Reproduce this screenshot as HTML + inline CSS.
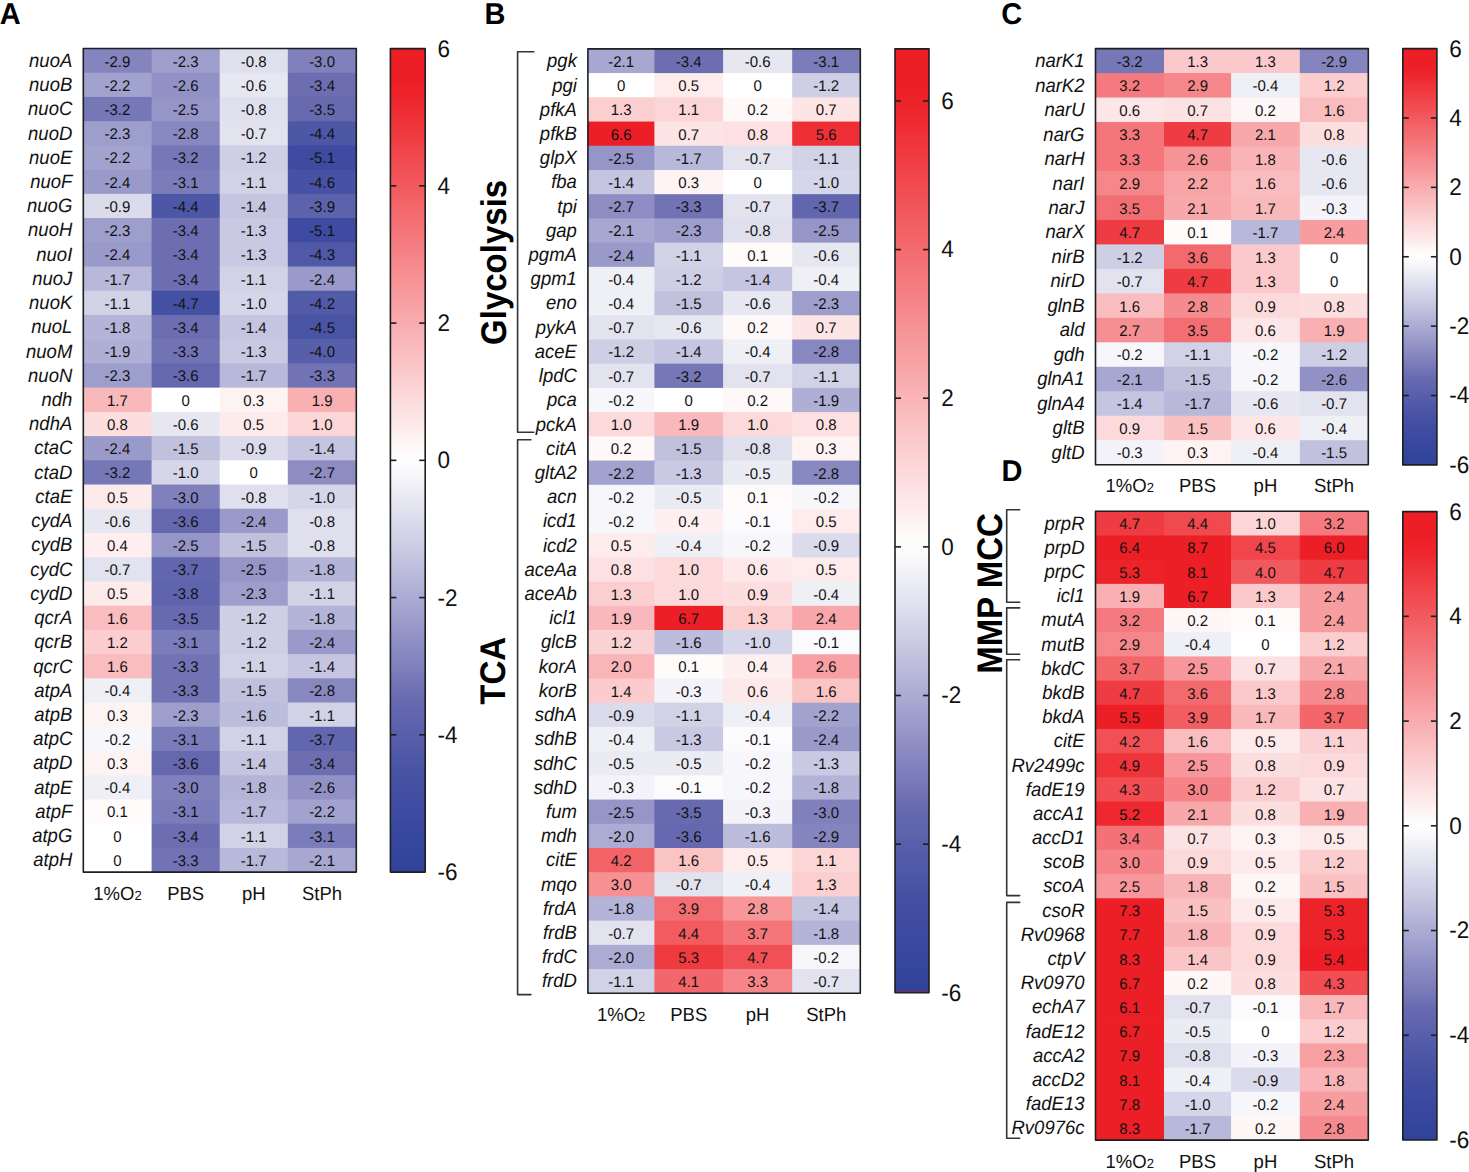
<!DOCTYPE html>
<html><head><meta charset="utf-8"><title>Heatmap</title>
<style>html,body{margin:0;padding:0;background:#fff;} body{width:1469px;height:1172px;overflow:hidden;} svg text{font-family:"Liberation Sans", sans-serif; text-rendering:geometricPrecision;}</style>
</head><body>
<svg width="1469" height="1172" viewBox="0 0 1469 1172" style="display:block">
<rect x="0" y="0" width="1469" height="1172" fill="#ffffff"/>
<defs><linearGradient id="gradA" x1="0" y1="0" x2="0" y2="1"><stop offset="0.0000" stop-color="#ed1f26"/><stop offset="0.0208" stop-color="#ed1f26"/><stop offset="0.0417" stop-color="#ed1f26"/><stop offset="0.0625" stop-color="#ee252c"/><stop offset="0.0833" stop-color="#ee3036"/><stop offset="0.1042" stop-color="#ef3a40"/><stop offset="0.1250" stop-color="#f0454a"/><stop offset="0.1458" stop-color="#f14f54"/><stop offset="0.1667" stop-color="#f2595e"/><stop offset="0.1875" stop-color="#f36468"/><stop offset="0.2083" stop-color="#f36e72"/><stop offset="0.2292" stop-color="#f4787d"/><stop offset="0.2500" stop-color="#f58387"/><stop offset="0.2708" stop-color="#f68d91"/><stop offset="0.2917" stop-color="#f7979b"/><stop offset="0.3125" stop-color="#f8a2a5"/><stop offset="0.3333" stop-color="#f8acaf"/><stop offset="0.3542" stop-color="#f9b6b9"/><stop offset="0.3750" stop-color="#fac1c3"/><stop offset="0.3958" stop-color="#fbcbcd"/><stop offset="0.4167" stop-color="#fcd6d7"/><stop offset="0.4375" stop-color="#fde0e1"/><stop offset="0.4583" stop-color="#fdeaeb"/><stop offset="0.4792" stop-color="#fef5f5"/><stop offset="0.5000" stop-color="#ffffff"/><stop offset="0.5208" stop-color="#f5f5fa"/><stop offset="0.5417" stop-color="#ebebf4"/><stop offset="0.5625" stop-color="#e1e1ef"/><stop offset="0.5833" stop-color="#d6d6ea"/><stop offset="0.6042" stop-color="#cccce4"/><stop offset="0.6250" stop-color="#c1c1de"/><stop offset="0.6458" stop-color="#b6b6d9"/><stop offset="0.6667" stop-color="#ababd3"/><stop offset="0.6875" stop-color="#a0a0ce"/><stop offset="0.7083" stop-color="#9595c8"/><stop offset="0.7292" stop-color="#8a8ac2"/><stop offset="0.7500" stop-color="#8080bc"/><stop offset="0.7708" stop-color="#7475b6"/><stop offset="0.7917" stop-color="#686ab0"/><stop offset="0.8125" stop-color="#6065ad"/><stop offset="0.8333" stop-color="#585faa"/><stop offset="0.8542" stop-color="#515aa8"/><stop offset="0.8750" stop-color="#4954a4"/><stop offset="0.8958" stop-color="#4450a2"/><stop offset="0.9167" stop-color="#404ca1"/><stop offset="0.9375" stop-color="#3b4a9f"/><stop offset="0.9583" stop-color="#37479d"/><stop offset="0.9792" stop-color="#33459b"/><stop offset="1.0000" stop-color="#2f4399"/></linearGradient><linearGradient id="gradB" x1="0" y1="0" x2="0" y2="1"><stop offset="0.0000" stop-color="#ed1f26"/><stop offset="0.0208" stop-color="#ed1f26"/><stop offset="0.0417" stop-color="#ed1f26"/><stop offset="0.0625" stop-color="#ed242b"/><stop offset="0.0833" stop-color="#ee2e34"/><stop offset="0.1042" stop-color="#ef373e"/><stop offset="0.1250" stop-color="#f04147"/><stop offset="0.1458" stop-color="#f14b51"/><stop offset="0.1667" stop-color="#f1555a"/><stop offset="0.1875" stop-color="#f25f64"/><stop offset="0.2083" stop-color="#f3696d"/><stop offset="0.2292" stop-color="#f47277"/><stop offset="0.2500" stop-color="#f47c80"/><stop offset="0.2708" stop-color="#f5868a"/><stop offset="0.2917" stop-color="#f69093"/><stop offset="0.3125" stop-color="#f79a9d"/><stop offset="0.3333" stop-color="#f8a3a6"/><stop offset="0.3542" stop-color="#f8adb0"/><stop offset="0.3750" stop-color="#f9b7b9"/><stop offset="0.3958" stop-color="#fac1c3"/><stop offset="0.4167" stop-color="#fbcbcc"/><stop offset="0.4375" stop-color="#fcd5d6"/><stop offset="0.4583" stop-color="#fcdedf"/><stop offset="0.4792" stop-color="#fde8e9"/><stop offset="0.5000" stop-color="#fef2f2"/><stop offset="0.5208" stop-color="#fffcfc"/><stop offset="0.5417" stop-color="#f8f8fb"/><stop offset="0.5625" stop-color="#ededf6"/><stop offset="0.5833" stop-color="#e3e3f0"/><stop offset="0.6042" stop-color="#d8d8ea"/><stop offset="0.6250" stop-color="#cccce4"/><stop offset="0.6458" stop-color="#c1c1de"/><stop offset="0.6667" stop-color="#b5b5d8"/><stop offset="0.6875" stop-color="#aaaad2"/><stop offset="0.7083" stop-color="#9e9ecd"/><stop offset="0.7292" stop-color="#9393c7"/><stop offset="0.7500" stop-color="#8787c1"/><stop offset="0.7708" stop-color="#7c7cba"/><stop offset="0.7917" stop-color="#6f70b4"/><stop offset="0.8125" stop-color="#6467af"/><stop offset="0.8333" stop-color="#5c62ac"/><stop offset="0.8542" stop-color="#545ca9"/><stop offset="0.8750" stop-color="#4c57a6"/><stop offset="0.8958" stop-color="#4551a3"/><stop offset="0.9167" stop-color="#414da1"/><stop offset="0.9375" stop-color="#3c4a9f"/><stop offset="0.9583" stop-color="#38489d"/><stop offset="0.9792" stop-color="#33459b"/><stop offset="1.0000" stop-color="#2f4399"/></linearGradient><linearGradient id="gradC" x1="0" y1="0" x2="0" y2="1"><stop offset="0.0000" stop-color="#ed1f26"/><stop offset="0.0208" stop-color="#ed1f26"/><stop offset="0.0417" stop-color="#ed1f26"/><stop offset="0.0625" stop-color="#ee252c"/><stop offset="0.0833" stop-color="#ee3036"/><stop offset="0.1042" stop-color="#ef3a40"/><stop offset="0.1250" stop-color="#f0454a"/><stop offset="0.1458" stop-color="#f14f54"/><stop offset="0.1667" stop-color="#f2595e"/><stop offset="0.1875" stop-color="#f36468"/><stop offset="0.2083" stop-color="#f36e72"/><stop offset="0.2292" stop-color="#f4787d"/><stop offset="0.2500" stop-color="#f58387"/><stop offset="0.2708" stop-color="#f68d91"/><stop offset="0.2917" stop-color="#f7979b"/><stop offset="0.3125" stop-color="#f8a2a5"/><stop offset="0.3333" stop-color="#f8acaf"/><stop offset="0.3542" stop-color="#f9b6b9"/><stop offset="0.3750" stop-color="#fac1c3"/><stop offset="0.3958" stop-color="#fbcbcd"/><stop offset="0.4167" stop-color="#fcd6d7"/><stop offset="0.4375" stop-color="#fde0e1"/><stop offset="0.4583" stop-color="#fdeaeb"/><stop offset="0.4792" stop-color="#fef5f5"/><stop offset="0.5000" stop-color="#ffffff"/><stop offset="0.5208" stop-color="#f5f5fa"/><stop offset="0.5417" stop-color="#ebebf4"/><stop offset="0.5625" stop-color="#e1e1ef"/><stop offset="0.5833" stop-color="#d6d6ea"/><stop offset="0.6042" stop-color="#cccce4"/><stop offset="0.6250" stop-color="#c1c1de"/><stop offset="0.6458" stop-color="#b6b6d9"/><stop offset="0.6667" stop-color="#ababd3"/><stop offset="0.6875" stop-color="#a0a0ce"/><stop offset="0.7083" stop-color="#9595c8"/><stop offset="0.7292" stop-color="#8a8ac2"/><stop offset="0.7500" stop-color="#8080bc"/><stop offset="0.7708" stop-color="#7475b6"/><stop offset="0.7917" stop-color="#686ab0"/><stop offset="0.8125" stop-color="#6065ad"/><stop offset="0.8333" stop-color="#585faa"/><stop offset="0.8542" stop-color="#515aa8"/><stop offset="0.8750" stop-color="#4954a4"/><stop offset="0.8958" stop-color="#4450a2"/><stop offset="0.9167" stop-color="#404ca1"/><stop offset="0.9375" stop-color="#3b4a9f"/><stop offset="0.9583" stop-color="#37479d"/><stop offset="0.9792" stop-color="#33459b"/><stop offset="1.0000" stop-color="#2f4399"/></linearGradient><linearGradient id="gradD" x1="0" y1="0" x2="0" y2="1"><stop offset="0.0000" stop-color="#ed1f26"/><stop offset="0.0208" stop-color="#ed1f26"/><stop offset="0.0417" stop-color="#ed1f26"/><stop offset="0.0625" stop-color="#ee252c"/><stop offset="0.0833" stop-color="#ee3036"/><stop offset="0.1042" stop-color="#ef3a40"/><stop offset="0.1250" stop-color="#f0454a"/><stop offset="0.1458" stop-color="#f14f54"/><stop offset="0.1667" stop-color="#f2595e"/><stop offset="0.1875" stop-color="#f36468"/><stop offset="0.2083" stop-color="#f36e72"/><stop offset="0.2292" stop-color="#f4787d"/><stop offset="0.2500" stop-color="#f58387"/><stop offset="0.2708" stop-color="#f68d91"/><stop offset="0.2917" stop-color="#f7979b"/><stop offset="0.3125" stop-color="#f8a2a5"/><stop offset="0.3333" stop-color="#f8acaf"/><stop offset="0.3542" stop-color="#f9b6b9"/><stop offset="0.3750" stop-color="#fac1c3"/><stop offset="0.3958" stop-color="#fbcbcd"/><stop offset="0.4167" stop-color="#fcd6d7"/><stop offset="0.4375" stop-color="#fde0e1"/><stop offset="0.4583" stop-color="#fdeaeb"/><stop offset="0.4792" stop-color="#fef5f5"/><stop offset="0.5000" stop-color="#ffffff"/><stop offset="0.5208" stop-color="#f5f5fa"/><stop offset="0.5417" stop-color="#ebebf4"/><stop offset="0.5625" stop-color="#e1e1ef"/><stop offset="0.5833" stop-color="#d6d6ea"/><stop offset="0.6042" stop-color="#cccce4"/><stop offset="0.6250" stop-color="#c1c1de"/><stop offset="0.6458" stop-color="#b6b6d9"/><stop offset="0.6667" stop-color="#ababd3"/><stop offset="0.6875" stop-color="#a0a0ce"/><stop offset="0.7083" stop-color="#9595c8"/><stop offset="0.7292" stop-color="#8a8ac2"/><stop offset="0.7500" stop-color="#8080bc"/><stop offset="0.7708" stop-color="#7475b6"/><stop offset="0.7917" stop-color="#686ab0"/><stop offset="0.8125" stop-color="#6065ad"/><stop offset="0.8333" stop-color="#585faa"/><stop offset="0.8542" stop-color="#515aa8"/><stop offset="0.8750" stop-color="#4954a4"/><stop offset="0.8958" stop-color="#4450a2"/><stop offset="0.9167" stop-color="#404ca1"/><stop offset="0.9375" stop-color="#3b4a9f"/><stop offset="0.9583" stop-color="#37479d"/><stop offset="0.9792" stop-color="#33459b"/><stop offset="1.0000" stop-color="#2f4399"/></linearGradient></defs>
<rect x="83.30" y="48.50" width="69.00" height="24.92" fill="#8484bf"/>
<rect x="151.60" y="48.50" width="68.80" height="24.92" fill="#9e9ecc"/>
<rect x="219.70" y="48.50" width="68.80" height="24.92" fill="#dfdfee"/>
<rect x="287.80" y="48.50" width="68.50" height="24.92" fill="#8080bc"/>
<rect x="83.30" y="72.72" width="69.00" height="24.92" fill="#a2a2cf"/>
<rect x="151.60" y="72.72" width="68.80" height="24.92" fill="#9191c6"/>
<rect x="219.70" y="72.72" width="68.80" height="24.92" fill="#e7e7f2"/>
<rect x="287.80" y="72.72" width="68.50" height="24.92" fill="#6d6eb2"/>
<rect x="83.30" y="96.95" width="69.00" height="24.92" fill="#7677b7"/>
<rect x="151.60" y="96.95" width="68.80" height="24.92" fill="#9595c8"/>
<rect x="219.70" y="96.95" width="68.80" height="24.92" fill="#dfdfee"/>
<rect x="287.80" y="96.95" width="68.50" height="24.92" fill="#686ab0"/>
<rect x="83.30" y="121.17" width="69.00" height="24.92" fill="#9e9ecc"/>
<rect x="151.60" y="121.17" width="68.80" height="24.92" fill="#8888c1"/>
<rect x="219.70" y="121.17" width="68.80" height="24.92" fill="#e3e3f0"/>
<rect x="287.80" y="121.17" width="68.50" height="24.92" fill="#4c57a6"/>
<rect x="83.30" y="145.39" width="69.00" height="24.92" fill="#a2a2cf"/>
<rect x="151.60" y="145.39" width="68.80" height="24.92" fill="#7677b7"/>
<rect x="219.70" y="145.39" width="68.80" height="24.92" fill="#cecee5"/>
<rect x="287.80" y="145.39" width="68.50" height="24.92" fill="#3e4ba0"/>
<rect x="83.30" y="169.62" width="69.00" height="24.92" fill="#9a9aca"/>
<rect x="151.60" y="169.62" width="68.80" height="24.92" fill="#7b7cba"/>
<rect x="219.70" y="169.62" width="68.80" height="24.92" fill="#d2d2e7"/>
<rect x="287.80" y="169.62" width="68.50" height="24.92" fill="#4652a3"/>
<rect x="83.30" y="193.84" width="69.00" height="24.92" fill="#dbdbec"/>
<rect x="151.60" y="193.84" width="68.80" height="24.92" fill="#4c57a6"/>
<rect x="219.70" y="193.84" width="68.80" height="24.92" fill="#c5c5e1"/>
<rect x="287.80" y="193.84" width="68.50" height="24.92" fill="#5c62ac"/>
<rect x="83.30" y="218.06" width="69.00" height="24.92" fill="#9e9ecc"/>
<rect x="151.60" y="218.06" width="68.80" height="24.92" fill="#6d6eb2"/>
<rect x="219.70" y="218.06" width="68.80" height="24.92" fill="#c9c9e3"/>
<rect x="287.80" y="218.06" width="68.50" height="24.92" fill="#3e4ba0"/>
<rect x="83.30" y="242.29" width="69.00" height="24.92" fill="#9a9aca"/>
<rect x="151.60" y="242.29" width="68.80" height="24.92" fill="#6d6eb2"/>
<rect x="219.70" y="242.29" width="68.80" height="24.92" fill="#c9c9e3"/>
<rect x="287.80" y="242.29" width="68.50" height="24.92" fill="#4f59a7"/>
<rect x="83.30" y="266.51" width="69.00" height="24.92" fill="#b8b8da"/>
<rect x="151.60" y="266.51" width="68.80" height="24.92" fill="#6d6eb2"/>
<rect x="219.70" y="266.51" width="68.80" height="24.92" fill="#d2d2e7"/>
<rect x="287.80" y="266.51" width="68.50" height="24.92" fill="#9a9aca"/>
<rect x="83.30" y="290.74" width="69.00" height="24.92" fill="#d2d2e7"/>
<rect x="151.60" y="290.74" width="68.80" height="24.92" fill="#4451a2"/>
<rect x="219.70" y="290.74" width="68.80" height="24.92" fill="#d6d6ea"/>
<rect x="287.80" y="290.74" width="68.50" height="24.92" fill="#525ba8"/>
<rect x="83.30" y="314.96" width="69.00" height="24.92" fill="#b4b4d8"/>
<rect x="151.60" y="314.96" width="68.80" height="24.92" fill="#6d6eb2"/>
<rect x="219.70" y="314.96" width="68.80" height="24.92" fill="#c5c5e1"/>
<rect x="287.80" y="314.96" width="68.50" height="24.92" fill="#4954a4"/>
<rect x="83.30" y="339.18" width="69.00" height="24.92" fill="#afafd5"/>
<rect x="151.60" y="339.18" width="68.80" height="24.92" fill="#7273b5"/>
<rect x="219.70" y="339.18" width="68.80" height="24.92" fill="#c9c9e3"/>
<rect x="287.80" y="339.18" width="68.50" height="24.92" fill="#585faa"/>
<rect x="83.30" y="363.41" width="69.00" height="24.92" fill="#9e9ecc"/>
<rect x="151.60" y="363.41" width="68.80" height="24.92" fill="#6568af"/>
<rect x="219.70" y="363.41" width="68.80" height="24.92" fill="#b8b8da"/>
<rect x="287.80" y="363.41" width="68.50" height="24.92" fill="#7273b5"/>
<rect x="83.30" y="387.63" width="69.00" height="24.92" fill="#f9b9bb"/>
<rect x="151.60" y="387.63" width="68.80" height="24.92" fill="#ffffff"/>
<rect x="219.70" y="387.63" width="68.80" height="24.92" fill="#fef3f3"/>
<rect x="287.80" y="387.63" width="68.50" height="24.92" fill="#f9b0b3"/>
<rect x="83.30" y="411.85" width="69.00" height="24.92" fill="#fcdedf"/>
<rect x="151.60" y="411.85" width="68.80" height="24.92" fill="#e7e7f2"/>
<rect x="219.70" y="411.85" width="68.80" height="24.92" fill="#fdeaeb"/>
<rect x="287.80" y="411.85" width="68.50" height="24.92" fill="#fcd6d7"/>
<rect x="83.30" y="436.08" width="69.00" height="24.92" fill="#9a9aca"/>
<rect x="151.60" y="436.08" width="68.80" height="24.92" fill="#c1c1de"/>
<rect x="219.70" y="436.08" width="68.80" height="24.92" fill="#dbdbec"/>
<rect x="287.80" y="436.08" width="68.50" height="24.92" fill="#c5c5e1"/>
<rect x="83.30" y="460.30" width="69.00" height="24.92" fill="#7677b7"/>
<rect x="151.60" y="460.30" width="68.80" height="24.92" fill="#d6d6ea"/>
<rect x="219.70" y="460.30" width="68.80" height="24.92" fill="#ffffff"/>
<rect x="287.80" y="460.30" width="68.50" height="24.92" fill="#8d8dc3"/>
<rect x="83.30" y="484.52" width="69.00" height="24.92" fill="#fdeaeb"/>
<rect x="151.60" y="484.52" width="68.80" height="24.92" fill="#8080bc"/>
<rect x="219.70" y="484.52" width="68.80" height="24.92" fill="#dfdfee"/>
<rect x="287.80" y="484.52" width="68.50" height="24.92" fill="#d6d6ea"/>
<rect x="83.30" y="508.75" width="69.00" height="24.92" fill="#e7e7f2"/>
<rect x="151.60" y="508.75" width="68.80" height="24.92" fill="#6568af"/>
<rect x="219.70" y="508.75" width="68.80" height="24.92" fill="#9a9aca"/>
<rect x="287.80" y="508.75" width="68.50" height="24.92" fill="#dfdfee"/>
<rect x="83.30" y="532.97" width="69.00" height="24.92" fill="#feeeef"/>
<rect x="151.60" y="532.97" width="68.80" height="24.92" fill="#9595c8"/>
<rect x="219.70" y="532.97" width="68.80" height="24.92" fill="#c1c1de"/>
<rect x="287.80" y="532.97" width="68.50" height="24.92" fill="#dfdfee"/>
<rect x="83.30" y="557.19" width="69.00" height="24.92" fill="#e3e3f0"/>
<rect x="151.60" y="557.19" width="68.80" height="24.92" fill="#6266ae"/>
<rect x="219.70" y="557.19" width="68.80" height="24.92" fill="#9595c8"/>
<rect x="287.80" y="557.19" width="68.50" height="24.92" fill="#b4b4d8"/>
<rect x="83.30" y="581.42" width="69.00" height="24.92" fill="#fdeaeb"/>
<rect x="151.60" y="581.42" width="68.80" height="24.92" fill="#5f64ad"/>
<rect x="219.70" y="581.42" width="68.80" height="24.92" fill="#9e9ecc"/>
<rect x="287.80" y="581.42" width="68.50" height="24.92" fill="#d2d2e7"/>
<rect x="83.30" y="605.64" width="69.00" height="24.92" fill="#fabdbf"/>
<rect x="151.60" y="605.64" width="68.80" height="24.92" fill="#686ab0"/>
<rect x="219.70" y="605.64" width="68.80" height="24.92" fill="#cecee5"/>
<rect x="287.80" y="605.64" width="68.50" height="24.92" fill="#b4b4d8"/>
<rect x="83.30" y="629.86" width="69.00" height="24.92" fill="#fbcdcf"/>
<rect x="151.60" y="629.86" width="68.80" height="24.92" fill="#7b7cba"/>
<rect x="219.70" y="629.86" width="68.80" height="24.92" fill="#cecee5"/>
<rect x="287.80" y="629.86" width="68.50" height="24.92" fill="#9a9aca"/>
<rect x="83.30" y="654.09" width="69.00" height="24.92" fill="#fabdbf"/>
<rect x="151.60" y="654.09" width="68.80" height="24.92" fill="#7273b5"/>
<rect x="219.70" y="654.09" width="68.80" height="24.92" fill="#d2d2e7"/>
<rect x="287.80" y="654.09" width="68.50" height="24.92" fill="#c5c5e1"/>
<rect x="83.30" y="678.31" width="69.00" height="24.92" fill="#efeff6"/>
<rect x="151.60" y="678.31" width="68.80" height="24.92" fill="#7273b5"/>
<rect x="219.70" y="678.31" width="68.80" height="24.92" fill="#c1c1de"/>
<rect x="287.80" y="678.31" width="68.50" height="24.92" fill="#8888c1"/>
<rect x="83.30" y="702.54" width="69.00" height="24.92" fill="#fef3f3"/>
<rect x="151.60" y="702.54" width="68.80" height="24.92" fill="#9e9ecc"/>
<rect x="219.70" y="702.54" width="68.80" height="24.92" fill="#bcbcdc"/>
<rect x="287.80" y="702.54" width="68.50" height="24.92" fill="#d2d2e7"/>
<rect x="83.30" y="726.76" width="69.00" height="24.92" fill="#f7f7fb"/>
<rect x="151.60" y="726.76" width="68.80" height="24.92" fill="#7b7cba"/>
<rect x="219.70" y="726.76" width="68.80" height="24.92" fill="#d2d2e7"/>
<rect x="287.80" y="726.76" width="68.50" height="24.92" fill="#6266ae"/>
<rect x="83.30" y="750.98" width="69.00" height="24.92" fill="#fef3f3"/>
<rect x="151.60" y="750.98" width="68.80" height="24.92" fill="#6568af"/>
<rect x="219.70" y="750.98" width="68.80" height="24.92" fill="#c5c5e1"/>
<rect x="287.80" y="750.98" width="68.50" height="24.92" fill="#6d6eb2"/>
<rect x="83.30" y="775.21" width="69.00" height="24.92" fill="#efeff6"/>
<rect x="151.60" y="775.21" width="68.80" height="24.92" fill="#8080bc"/>
<rect x="219.70" y="775.21" width="68.80" height="24.92" fill="#b4b4d8"/>
<rect x="287.80" y="775.21" width="68.50" height="24.92" fill="#9191c6"/>
<rect x="83.30" y="799.43" width="69.00" height="24.92" fill="#fffbfb"/>
<rect x="151.60" y="799.43" width="68.80" height="24.92" fill="#7b7cba"/>
<rect x="219.70" y="799.43" width="68.80" height="24.92" fill="#b8b8da"/>
<rect x="287.80" y="799.43" width="68.50" height="24.92" fill="#a2a2cf"/>
<rect x="83.30" y="823.65" width="69.00" height="24.92" fill="#ffffff"/>
<rect x="151.60" y="823.65" width="68.80" height="24.92" fill="#6d6eb2"/>
<rect x="219.70" y="823.65" width="68.80" height="24.92" fill="#d2d2e7"/>
<rect x="287.80" y="823.65" width="68.50" height="24.92" fill="#7b7cba"/>
<rect x="83.30" y="847.88" width="69.00" height="24.22" fill="#ffffff"/>
<rect x="151.60" y="847.88" width="68.80" height="24.22" fill="#7273b5"/>
<rect x="219.70" y="847.88" width="68.80" height="24.22" fill="#b8b8da"/>
<rect x="287.80" y="847.88" width="68.50" height="24.22" fill="#a7a7d1"/>
<rect x="83.30" y="48.50" width="273.00" height="823.60" fill="none" stroke="#1c1f20" stroke-width="1.6" stroke-linejoin="round"/>
<text transform="translate(117.45,66.51) scale(1,1.03)" font-size="15" text-anchor="middle" fill="#111111">-2.9</text>
<text transform="translate(185.65,66.51) scale(1,1.03)" font-size="15" text-anchor="middle" fill="#111111">-2.3</text>
<text transform="translate(253.75,66.51) scale(1,1.03)" font-size="15" text-anchor="middle" fill="#111111">-0.8</text>
<text transform="translate(322.05,66.51) scale(1,1.03)" font-size="15" text-anchor="middle" fill="#111111">-3.0</text>
<text transform="translate(117.45,90.74) scale(1,1.03)" font-size="15" text-anchor="middle" fill="#111111">-2.2</text>
<text transform="translate(185.65,90.74) scale(1,1.03)" font-size="15" text-anchor="middle" fill="#111111">-2.6</text>
<text transform="translate(253.75,90.74) scale(1,1.03)" font-size="15" text-anchor="middle" fill="#111111">-0.6</text>
<text transform="translate(322.05,90.74) scale(1,1.03)" font-size="15" text-anchor="middle" fill="#111111">-3.4</text>
<text transform="translate(117.45,114.96) scale(1,1.03)" font-size="15" text-anchor="middle" fill="#111111">-3.2</text>
<text transform="translate(185.65,114.96) scale(1,1.03)" font-size="15" text-anchor="middle" fill="#111111">-2.5</text>
<text transform="translate(253.75,114.96) scale(1,1.03)" font-size="15" text-anchor="middle" fill="#111111">-0.8</text>
<text transform="translate(322.05,114.96) scale(1,1.03)" font-size="15" text-anchor="middle" fill="#111111">-3.5</text>
<text transform="translate(117.45,139.18) scale(1,1.03)" font-size="15" text-anchor="middle" fill="#111111">-2.3</text>
<text transform="translate(185.65,139.18) scale(1,1.03)" font-size="15" text-anchor="middle" fill="#111111">-2.8</text>
<text transform="translate(253.75,139.18) scale(1,1.03)" font-size="15" text-anchor="middle" fill="#111111">-0.7</text>
<text transform="translate(322.05,139.18) scale(1,1.03)" font-size="15" text-anchor="middle" fill="#111111">-4.4</text>
<text transform="translate(117.45,163.41) scale(1,1.03)" font-size="15" text-anchor="middle" fill="#111111">-2.2</text>
<text transform="translate(185.65,163.41) scale(1,1.03)" font-size="15" text-anchor="middle" fill="#111111">-3.2</text>
<text transform="translate(253.75,163.41) scale(1,1.03)" font-size="15" text-anchor="middle" fill="#111111">-1.2</text>
<text transform="translate(322.05,163.41) scale(1,1.03)" font-size="15" text-anchor="middle" fill="#111111">-5.1</text>
<text transform="translate(117.45,187.63) scale(1,1.03)" font-size="15" text-anchor="middle" fill="#111111">-2.4</text>
<text transform="translate(185.65,187.63) scale(1,1.03)" font-size="15" text-anchor="middle" fill="#111111">-3.1</text>
<text transform="translate(253.75,187.63) scale(1,1.03)" font-size="15" text-anchor="middle" fill="#111111">-1.1</text>
<text transform="translate(322.05,187.63) scale(1,1.03)" font-size="15" text-anchor="middle" fill="#111111">-4.6</text>
<text transform="translate(117.45,211.85) scale(1,1.03)" font-size="15" text-anchor="middle" fill="#111111">-0.9</text>
<text transform="translate(185.65,211.85) scale(1,1.03)" font-size="15" text-anchor="middle" fill="#111111">-4.4</text>
<text transform="translate(253.75,211.85) scale(1,1.03)" font-size="15" text-anchor="middle" fill="#111111">-1.4</text>
<text transform="translate(322.05,211.85) scale(1,1.03)" font-size="15" text-anchor="middle" fill="#111111">-3.9</text>
<text transform="translate(117.45,236.08) scale(1,1.03)" font-size="15" text-anchor="middle" fill="#111111">-2.3</text>
<text transform="translate(185.65,236.08) scale(1,1.03)" font-size="15" text-anchor="middle" fill="#111111">-3.4</text>
<text transform="translate(253.75,236.08) scale(1,1.03)" font-size="15" text-anchor="middle" fill="#111111">-1.3</text>
<text transform="translate(322.05,236.08) scale(1,1.03)" font-size="15" text-anchor="middle" fill="#111111">-5.1</text>
<text transform="translate(117.45,260.30) scale(1,1.03)" font-size="15" text-anchor="middle" fill="#111111">-2.4</text>
<text transform="translate(185.65,260.30) scale(1,1.03)" font-size="15" text-anchor="middle" fill="#111111">-3.4</text>
<text transform="translate(253.75,260.30) scale(1,1.03)" font-size="15" text-anchor="middle" fill="#111111">-1.3</text>
<text transform="translate(322.05,260.30) scale(1,1.03)" font-size="15" text-anchor="middle" fill="#111111">-4.3</text>
<text transform="translate(117.45,284.52) scale(1,1.03)" font-size="15" text-anchor="middle" fill="#111111">-1.7</text>
<text transform="translate(185.65,284.52) scale(1,1.03)" font-size="15" text-anchor="middle" fill="#111111">-3.4</text>
<text transform="translate(253.75,284.52) scale(1,1.03)" font-size="15" text-anchor="middle" fill="#111111">-1.1</text>
<text transform="translate(322.05,284.52) scale(1,1.03)" font-size="15" text-anchor="middle" fill="#111111">-2.4</text>
<text transform="translate(117.45,308.75) scale(1,1.03)" font-size="15" text-anchor="middle" fill="#111111">-1.1</text>
<text transform="translate(185.65,308.75) scale(1,1.03)" font-size="15" text-anchor="middle" fill="#111111">-4.7</text>
<text transform="translate(253.75,308.75) scale(1,1.03)" font-size="15" text-anchor="middle" fill="#111111">-1.0</text>
<text transform="translate(322.05,308.75) scale(1,1.03)" font-size="15" text-anchor="middle" fill="#111111">-4.2</text>
<text transform="translate(117.45,332.97) scale(1,1.03)" font-size="15" text-anchor="middle" fill="#111111">-1.8</text>
<text transform="translate(185.65,332.97) scale(1,1.03)" font-size="15" text-anchor="middle" fill="#111111">-3.4</text>
<text transform="translate(253.75,332.97) scale(1,1.03)" font-size="15" text-anchor="middle" fill="#111111">-1.4</text>
<text transform="translate(322.05,332.97) scale(1,1.03)" font-size="15" text-anchor="middle" fill="#111111">-4.5</text>
<text transform="translate(117.45,357.19) scale(1,1.03)" font-size="15" text-anchor="middle" fill="#111111">-1.9</text>
<text transform="translate(185.65,357.19) scale(1,1.03)" font-size="15" text-anchor="middle" fill="#111111">-3.3</text>
<text transform="translate(253.75,357.19) scale(1,1.03)" font-size="15" text-anchor="middle" fill="#111111">-1.3</text>
<text transform="translate(322.05,357.19) scale(1,1.03)" font-size="15" text-anchor="middle" fill="#111111">-4.0</text>
<text transform="translate(117.45,381.42) scale(1,1.03)" font-size="15" text-anchor="middle" fill="#111111">-2.3</text>
<text transform="translate(185.65,381.42) scale(1,1.03)" font-size="15" text-anchor="middle" fill="#111111">-3.6</text>
<text transform="translate(253.75,381.42) scale(1,1.03)" font-size="15" text-anchor="middle" fill="#111111">-1.7</text>
<text transform="translate(322.05,381.42) scale(1,1.03)" font-size="15" text-anchor="middle" fill="#111111">-3.3</text>
<text transform="translate(117.45,405.64) scale(1,1.03)" font-size="15" text-anchor="middle" fill="#111111">1.7</text>
<text transform="translate(185.65,405.64) scale(1,1.03)" font-size="15" text-anchor="middle" fill="#111111">0</text>
<text transform="translate(253.75,405.64) scale(1,1.03)" font-size="15" text-anchor="middle" fill="#111111">0.3</text>
<text transform="translate(322.05,405.64) scale(1,1.03)" font-size="15" text-anchor="middle" fill="#111111">1.9</text>
<text transform="translate(117.45,429.86) scale(1,1.03)" font-size="15" text-anchor="middle" fill="#111111">0.8</text>
<text transform="translate(185.65,429.86) scale(1,1.03)" font-size="15" text-anchor="middle" fill="#111111">-0.6</text>
<text transform="translate(253.75,429.86) scale(1,1.03)" font-size="15" text-anchor="middle" fill="#111111">0.5</text>
<text transform="translate(322.05,429.86) scale(1,1.03)" font-size="15" text-anchor="middle" fill="#111111">1.0</text>
<text transform="translate(117.45,454.09) scale(1,1.03)" font-size="15" text-anchor="middle" fill="#111111">-2.4</text>
<text transform="translate(185.65,454.09) scale(1,1.03)" font-size="15" text-anchor="middle" fill="#111111">-1.5</text>
<text transform="translate(253.75,454.09) scale(1,1.03)" font-size="15" text-anchor="middle" fill="#111111">-0.9</text>
<text transform="translate(322.05,454.09) scale(1,1.03)" font-size="15" text-anchor="middle" fill="#111111">-1.4</text>
<text transform="translate(117.45,478.31) scale(1,1.03)" font-size="15" text-anchor="middle" fill="#111111">-3.2</text>
<text transform="translate(185.65,478.31) scale(1,1.03)" font-size="15" text-anchor="middle" fill="#111111">-1.0</text>
<text transform="translate(253.75,478.31) scale(1,1.03)" font-size="15" text-anchor="middle" fill="#111111">0</text>
<text transform="translate(322.05,478.31) scale(1,1.03)" font-size="15" text-anchor="middle" fill="#111111">-2.7</text>
<text transform="translate(117.45,502.54) scale(1,1.03)" font-size="15" text-anchor="middle" fill="#111111">0.5</text>
<text transform="translate(185.65,502.54) scale(1,1.03)" font-size="15" text-anchor="middle" fill="#111111">-3.0</text>
<text transform="translate(253.75,502.54) scale(1,1.03)" font-size="15" text-anchor="middle" fill="#111111">-0.8</text>
<text transform="translate(322.05,502.54) scale(1,1.03)" font-size="15" text-anchor="middle" fill="#111111">-1.0</text>
<text transform="translate(117.45,526.76) scale(1,1.03)" font-size="15" text-anchor="middle" fill="#111111">-0.6</text>
<text transform="translate(185.65,526.76) scale(1,1.03)" font-size="15" text-anchor="middle" fill="#111111">-3.6</text>
<text transform="translate(253.75,526.76) scale(1,1.03)" font-size="15" text-anchor="middle" fill="#111111">-2.4</text>
<text transform="translate(322.05,526.76) scale(1,1.03)" font-size="15" text-anchor="middle" fill="#111111">-0.8</text>
<text transform="translate(117.45,550.98) scale(1,1.03)" font-size="15" text-anchor="middle" fill="#111111">0.4</text>
<text transform="translate(185.65,550.98) scale(1,1.03)" font-size="15" text-anchor="middle" fill="#111111">-2.5</text>
<text transform="translate(253.75,550.98) scale(1,1.03)" font-size="15" text-anchor="middle" fill="#111111">-1.5</text>
<text transform="translate(322.05,550.98) scale(1,1.03)" font-size="15" text-anchor="middle" fill="#111111">-0.8</text>
<text transform="translate(117.45,575.21) scale(1,1.03)" font-size="15" text-anchor="middle" fill="#111111">-0.7</text>
<text transform="translate(185.65,575.21) scale(1,1.03)" font-size="15" text-anchor="middle" fill="#111111">-3.7</text>
<text transform="translate(253.75,575.21) scale(1,1.03)" font-size="15" text-anchor="middle" fill="#111111">-2.5</text>
<text transform="translate(322.05,575.21) scale(1,1.03)" font-size="15" text-anchor="middle" fill="#111111">-1.8</text>
<text transform="translate(117.45,599.43) scale(1,1.03)" font-size="15" text-anchor="middle" fill="#111111">0.5</text>
<text transform="translate(185.65,599.43) scale(1,1.03)" font-size="15" text-anchor="middle" fill="#111111">-3.8</text>
<text transform="translate(253.75,599.43) scale(1,1.03)" font-size="15" text-anchor="middle" fill="#111111">-2.3</text>
<text transform="translate(322.05,599.43) scale(1,1.03)" font-size="15" text-anchor="middle" fill="#111111">-1.1</text>
<text transform="translate(117.45,623.65) scale(1,1.03)" font-size="15" text-anchor="middle" fill="#111111">1.6</text>
<text transform="translate(185.65,623.65) scale(1,1.03)" font-size="15" text-anchor="middle" fill="#111111">-3.5</text>
<text transform="translate(253.75,623.65) scale(1,1.03)" font-size="15" text-anchor="middle" fill="#111111">-1.2</text>
<text transform="translate(322.05,623.65) scale(1,1.03)" font-size="15" text-anchor="middle" fill="#111111">-1.8</text>
<text transform="translate(117.45,647.88) scale(1,1.03)" font-size="15" text-anchor="middle" fill="#111111">1.2</text>
<text transform="translate(185.65,647.88) scale(1,1.03)" font-size="15" text-anchor="middle" fill="#111111">-3.1</text>
<text transform="translate(253.75,647.88) scale(1,1.03)" font-size="15" text-anchor="middle" fill="#111111">-1.2</text>
<text transform="translate(322.05,647.88) scale(1,1.03)" font-size="15" text-anchor="middle" fill="#111111">-2.4</text>
<text transform="translate(117.45,672.10) scale(1,1.03)" font-size="15" text-anchor="middle" fill="#111111">1.6</text>
<text transform="translate(185.65,672.10) scale(1,1.03)" font-size="15" text-anchor="middle" fill="#111111">-3.3</text>
<text transform="translate(253.75,672.10) scale(1,1.03)" font-size="15" text-anchor="middle" fill="#111111">-1.1</text>
<text transform="translate(322.05,672.10) scale(1,1.03)" font-size="15" text-anchor="middle" fill="#111111">-1.4</text>
<text transform="translate(117.45,696.32) scale(1,1.03)" font-size="15" text-anchor="middle" fill="#111111">-0.4</text>
<text transform="translate(185.65,696.32) scale(1,1.03)" font-size="15" text-anchor="middle" fill="#111111">-3.3</text>
<text transform="translate(253.75,696.32) scale(1,1.03)" font-size="15" text-anchor="middle" fill="#111111">-1.5</text>
<text transform="translate(322.05,696.32) scale(1,1.03)" font-size="15" text-anchor="middle" fill="#111111">-2.8</text>
<text transform="translate(117.45,720.55) scale(1,1.03)" font-size="15" text-anchor="middle" fill="#111111">0.3</text>
<text transform="translate(185.65,720.55) scale(1,1.03)" font-size="15" text-anchor="middle" fill="#111111">-2.3</text>
<text transform="translate(253.75,720.55) scale(1,1.03)" font-size="15" text-anchor="middle" fill="#111111">-1.6</text>
<text transform="translate(322.05,720.55) scale(1,1.03)" font-size="15" text-anchor="middle" fill="#111111">-1.1</text>
<text transform="translate(117.45,744.77) scale(1,1.03)" font-size="15" text-anchor="middle" fill="#111111">-0.2</text>
<text transform="translate(185.65,744.77) scale(1,1.03)" font-size="15" text-anchor="middle" fill="#111111">-3.1</text>
<text transform="translate(253.75,744.77) scale(1,1.03)" font-size="15" text-anchor="middle" fill="#111111">-1.1</text>
<text transform="translate(322.05,744.77) scale(1,1.03)" font-size="15" text-anchor="middle" fill="#111111">-3.7</text>
<text transform="translate(117.45,768.99) scale(1,1.03)" font-size="15" text-anchor="middle" fill="#111111">0.3</text>
<text transform="translate(185.65,768.99) scale(1,1.03)" font-size="15" text-anchor="middle" fill="#111111">-3.6</text>
<text transform="translate(253.75,768.99) scale(1,1.03)" font-size="15" text-anchor="middle" fill="#111111">-1.4</text>
<text transform="translate(322.05,768.99) scale(1,1.03)" font-size="15" text-anchor="middle" fill="#111111">-3.4</text>
<text transform="translate(117.45,793.22) scale(1,1.03)" font-size="15" text-anchor="middle" fill="#111111">-0.4</text>
<text transform="translate(185.65,793.22) scale(1,1.03)" font-size="15" text-anchor="middle" fill="#111111">-3.0</text>
<text transform="translate(253.75,793.22) scale(1,1.03)" font-size="15" text-anchor="middle" fill="#111111">-1.8</text>
<text transform="translate(322.05,793.22) scale(1,1.03)" font-size="15" text-anchor="middle" fill="#111111">-2.6</text>
<text transform="translate(117.45,817.44) scale(1,1.03)" font-size="15" text-anchor="middle" fill="#111111">0.1</text>
<text transform="translate(185.65,817.44) scale(1,1.03)" font-size="15" text-anchor="middle" fill="#111111">-3.1</text>
<text transform="translate(253.75,817.44) scale(1,1.03)" font-size="15" text-anchor="middle" fill="#111111">-1.7</text>
<text transform="translate(322.05,817.44) scale(1,1.03)" font-size="15" text-anchor="middle" fill="#111111">-2.2</text>
<text transform="translate(117.45,841.66) scale(1,1.03)" font-size="15" text-anchor="middle" fill="#111111">0</text>
<text transform="translate(185.65,841.66) scale(1,1.03)" font-size="15" text-anchor="middle" fill="#111111">-3.4</text>
<text transform="translate(253.75,841.66) scale(1,1.03)" font-size="15" text-anchor="middle" fill="#111111">-1.1</text>
<text transform="translate(322.05,841.66) scale(1,1.03)" font-size="15" text-anchor="middle" fill="#111111">-3.1</text>
<text transform="translate(117.45,865.89) scale(1,1.03)" font-size="15" text-anchor="middle" fill="#111111">0</text>
<text transform="translate(185.65,865.89) scale(1,1.03)" font-size="15" text-anchor="middle" fill="#111111">-3.3</text>
<text transform="translate(253.75,865.89) scale(1,1.03)" font-size="15" text-anchor="middle" fill="#111111">-1.7</text>
<text transform="translate(322.05,865.89) scale(1,1.03)" font-size="15" text-anchor="middle" fill="#111111">-2.1</text>
<text transform="translate(72.30,66.91) scale(1,1.05)" font-size="18.5" font-style="italic" text-anchor="end" fill="#111">nuoA</text>
<text transform="translate(72.30,91.14) scale(1,1.05)" font-size="18.5" font-style="italic" text-anchor="end" fill="#111">nuoB</text>
<text transform="translate(72.30,115.36) scale(1,1.05)" font-size="18.5" font-style="italic" text-anchor="end" fill="#111">nuoC</text>
<text transform="translate(72.30,139.58) scale(1,1.05)" font-size="18.5" font-style="italic" text-anchor="end" fill="#111">nuoD</text>
<text transform="translate(72.30,163.81) scale(1,1.05)" font-size="18.5" font-style="italic" text-anchor="end" fill="#111">nuoE</text>
<text transform="translate(72.30,188.03) scale(1,1.05)" font-size="18.5" font-style="italic" text-anchor="end" fill="#111">nuoF</text>
<text transform="translate(72.30,212.25) scale(1,1.05)" font-size="18.5" font-style="italic" text-anchor="end" fill="#111">nuoG</text>
<text transform="translate(72.30,236.48) scale(1,1.05)" font-size="18.5" font-style="italic" text-anchor="end" fill="#111">nuoH</text>
<text transform="translate(72.30,260.70) scale(1,1.05)" font-size="18.5" font-style="italic" text-anchor="end" fill="#111">nuoI</text>
<text transform="translate(72.30,284.92) scale(1,1.05)" font-size="18.5" font-style="italic" text-anchor="end" fill="#111">nuoJ</text>
<text transform="translate(72.30,309.15) scale(1,1.05)" font-size="18.5" font-style="italic" text-anchor="end" fill="#111">nuoK</text>
<text transform="translate(72.30,333.37) scale(1,1.05)" font-size="18.5" font-style="italic" text-anchor="end" fill="#111">nuoL</text>
<text transform="translate(72.30,357.59) scale(1,1.05)" font-size="18.5" font-style="italic" text-anchor="end" fill="#111">nuoM</text>
<text transform="translate(72.30,381.82) scale(1,1.05)" font-size="18.5" font-style="italic" text-anchor="end" fill="#111">nuoN</text>
<text transform="translate(72.30,406.04) scale(1,1.05)" font-size="18.5" font-style="italic" text-anchor="end" fill="#111">ndh</text>
<text transform="translate(72.30,430.26) scale(1,1.05)" font-size="18.5" font-style="italic" text-anchor="end" fill="#111">ndhA</text>
<text transform="translate(72.30,454.49) scale(1,1.05)" font-size="18.5" font-style="italic" text-anchor="end" fill="#111">ctaC</text>
<text transform="translate(72.30,478.71) scale(1,1.05)" font-size="18.5" font-style="italic" text-anchor="end" fill="#111">ctaD</text>
<text transform="translate(72.30,502.94) scale(1,1.05)" font-size="18.5" font-style="italic" text-anchor="end" fill="#111">ctaE</text>
<text transform="translate(72.30,527.16) scale(1,1.05)" font-size="18.5" font-style="italic" text-anchor="end" fill="#111">cydA</text>
<text transform="translate(72.30,551.38) scale(1,1.05)" font-size="18.5" font-style="italic" text-anchor="end" fill="#111">cydB</text>
<text transform="translate(72.30,575.61) scale(1,1.05)" font-size="18.5" font-style="italic" text-anchor="end" fill="#111">cydC</text>
<text transform="translate(72.30,599.83) scale(1,1.05)" font-size="18.5" font-style="italic" text-anchor="end" fill="#111">cydD</text>
<text transform="translate(72.30,624.05) scale(1,1.05)" font-size="18.5" font-style="italic" text-anchor="end" fill="#111">qcrA</text>
<text transform="translate(72.30,648.28) scale(1,1.05)" font-size="18.5" font-style="italic" text-anchor="end" fill="#111">qcrB</text>
<text transform="translate(72.30,672.50) scale(1,1.05)" font-size="18.5" font-style="italic" text-anchor="end" fill="#111">qcrC</text>
<text transform="translate(72.30,696.72) scale(1,1.05)" font-size="18.5" font-style="italic" text-anchor="end" fill="#111">atpA</text>
<text transform="translate(72.30,720.95) scale(1,1.05)" font-size="18.5" font-style="italic" text-anchor="end" fill="#111">atpB</text>
<text transform="translate(72.30,745.17) scale(1,1.05)" font-size="18.5" font-style="italic" text-anchor="end" fill="#111">atpC</text>
<text transform="translate(72.30,769.39) scale(1,1.05)" font-size="18.5" font-style="italic" text-anchor="end" fill="#111">atpD</text>
<text transform="translate(72.30,793.62) scale(1,1.05)" font-size="18.5" font-style="italic" text-anchor="end" fill="#111">atpE</text>
<text transform="translate(72.30,817.84) scale(1,1.05)" font-size="18.5" font-style="italic" text-anchor="end" fill="#111">atpF</text>
<text transform="translate(72.30,842.06) scale(1,1.05)" font-size="18.5" font-style="italic" text-anchor="end" fill="#111">atpG</text>
<text transform="translate(72.30,866.29) scale(1,1.05)" font-size="18.5" font-style="italic" text-anchor="end" fill="#111">atpH</text>
<text transform="translate(117.45,899.60) scale(1,1.03)" font-size="18.5" text-anchor="middle" fill="#111">1%O<tspan font-size="13">2</tspan></text>
<text transform="translate(185.65,899.60) scale(1,1.03)" font-size="18.5" text-anchor="middle" fill="#111">PBS</text>
<text transform="translate(253.75,899.60) scale(1,1.03)" font-size="18.5" text-anchor="middle" fill="#111">pH</text>
<text transform="translate(322.05,899.60) scale(1,1.03)" font-size="18.5" text-anchor="middle" fill="#111">StPh</text>
<rect x="390.40" y="48.60" width="34.80" height="823.50" fill="url(#gradA)" stroke="#1c1f20" stroke-width="1.6" stroke-linejoin="round"/>
<text transform="translate(437.50,56.50) scale(1,1.06)" font-size="22.5" fill="#111">6</text>
<line x1="390.40" y1="185.85" x2="396.40" y2="185.85" stroke="#1c1f20" stroke-width="1.6"/>
<line x1="419.20" y1="185.85" x2="425.20" y2="185.85" stroke="#1c1f20" stroke-width="1.6"/>
<text transform="translate(437.50,193.75) scale(1,1.06)" font-size="22.5" fill="#111">4</text>
<line x1="390.40" y1="323.10" x2="396.40" y2="323.10" stroke="#1c1f20" stroke-width="1.6"/>
<line x1="419.20" y1="323.10" x2="425.20" y2="323.10" stroke="#1c1f20" stroke-width="1.6"/>
<text transform="translate(437.50,331.00) scale(1,1.06)" font-size="22.5" fill="#111">2</text>
<line x1="390.40" y1="460.35" x2="396.40" y2="460.35" stroke="#1c1f20" stroke-width="1.6"/>
<line x1="419.20" y1="460.35" x2="425.20" y2="460.35" stroke="#1c1f20" stroke-width="1.6"/>
<text transform="translate(437.50,468.25) scale(1,1.06)" font-size="22.5" fill="#111">0</text>
<line x1="390.40" y1="597.60" x2="396.40" y2="597.60" stroke="#1c1f20" stroke-width="1.6"/>
<line x1="419.20" y1="597.60" x2="425.20" y2="597.60" stroke="#1c1f20" stroke-width="1.6"/>
<text transform="translate(437.50,605.50) scale(1,1.06)" font-size="22.5" fill="#111">-2</text>
<line x1="390.40" y1="734.85" x2="396.40" y2="734.85" stroke="#1c1f20" stroke-width="1.6"/>
<line x1="419.20" y1="734.85" x2="425.20" y2="734.85" stroke="#1c1f20" stroke-width="1.6"/>
<text transform="translate(437.50,742.75) scale(1,1.06)" font-size="22.5" fill="#111">-4</text>
<text transform="translate(437.50,880.00) scale(1,1.06)" font-size="22.5" fill="#111">-6</text>
<rect x="587.90" y="48.90" width="67.20" height="24.92" fill="#a7a7d1"/>
<rect x="654.40" y="48.90" width="69.40" height="24.92" fill="#6d6eb2"/>
<rect x="723.10" y="48.90" width="69.80" height="24.92" fill="#e7e7f2"/>
<rect x="792.20" y="48.90" width="68.10" height="24.92" fill="#7b7cba"/>
<rect x="587.90" y="73.12" width="67.20" height="24.92" fill="#ffffff"/>
<rect x="654.40" y="73.12" width="69.40" height="24.92" fill="#feeced"/>
<rect x="723.10" y="73.12" width="69.80" height="24.92" fill="#ffffff"/>
<rect x="792.20" y="73.12" width="68.10" height="24.92" fill="#cecee5"/>
<rect x="587.90" y="97.33" width="67.20" height="24.92" fill="#fbcfd0"/>
<rect x="654.40" y="97.33" width="69.40" height="24.92" fill="#fcd6d7"/>
<rect x="723.10" y="97.33" width="69.80" height="24.92" fill="#fef8f8"/>
<rect x="792.20" y="97.33" width="68.10" height="24.92" fill="#fde5e6"/>
<rect x="587.90" y="121.55" width="67.20" height="24.92" fill="#ed1f26"/>
<rect x="654.40" y="121.55" width="69.40" height="24.92" fill="#fde5e6"/>
<rect x="723.10" y="121.55" width="69.80" height="24.92" fill="#fde1e2"/>
<rect x="792.20" y="121.55" width="68.10" height="24.92" fill="#ee2f36"/>
<rect x="587.90" y="145.76" width="67.20" height="24.92" fill="#9595c8"/>
<rect x="654.40" y="145.76" width="69.40" height="24.92" fill="#b8b8da"/>
<rect x="723.10" y="145.76" width="69.80" height="24.92" fill="#e3e3f0"/>
<rect x="792.20" y="145.76" width="68.10" height="24.92" fill="#d2d2e7"/>
<rect x="587.90" y="169.98" width="67.20" height="24.92" fill="#c5c5e1"/>
<rect x="654.40" y="169.98" width="69.40" height="24.92" fill="#fef4f4"/>
<rect x="723.10" y="169.98" width="69.80" height="24.92" fill="#ffffff"/>
<rect x="792.20" y="169.98" width="68.10" height="24.92" fill="#d6d6ea"/>
<rect x="587.90" y="194.19" width="67.20" height="24.92" fill="#8d8dc3"/>
<rect x="654.40" y="194.19" width="69.40" height="24.92" fill="#7273b5"/>
<rect x="723.10" y="194.19" width="69.80" height="24.92" fill="#e3e3f0"/>
<rect x="792.20" y="194.19" width="68.10" height="24.92" fill="#6266ae"/>
<rect x="587.90" y="218.41" width="67.20" height="24.92" fill="#a7a7d1"/>
<rect x="654.40" y="218.41" width="69.40" height="24.92" fill="#9e9ecc"/>
<rect x="723.10" y="218.41" width="69.80" height="24.92" fill="#dfdfee"/>
<rect x="792.20" y="218.41" width="68.10" height="24.92" fill="#9595c8"/>
<rect x="587.90" y="242.62" width="67.20" height="24.92" fill="#9a9aca"/>
<rect x="654.40" y="242.62" width="69.40" height="24.92" fill="#d2d2e7"/>
<rect x="723.10" y="242.62" width="69.80" height="24.92" fill="#fffbfb"/>
<rect x="792.20" y="242.62" width="68.10" height="24.92" fill="#e7e7f2"/>
<rect x="587.90" y="266.84" width="67.20" height="24.92" fill="#efeff6"/>
<rect x="654.40" y="266.84" width="69.40" height="24.92" fill="#cecee5"/>
<rect x="723.10" y="266.84" width="69.80" height="24.92" fill="#c5c5e1"/>
<rect x="792.20" y="266.84" width="68.10" height="24.92" fill="#efeff6"/>
<rect x="587.90" y="291.05" width="67.20" height="24.92" fill="#efeff6"/>
<rect x="654.40" y="291.05" width="69.40" height="24.92" fill="#c1c1de"/>
<rect x="723.10" y="291.05" width="69.80" height="24.92" fill="#e7e7f2"/>
<rect x="792.20" y="291.05" width="68.10" height="24.92" fill="#9e9ecc"/>
<rect x="587.90" y="315.27" width="67.20" height="24.92" fill="#e3e3f0"/>
<rect x="654.40" y="315.27" width="69.40" height="24.92" fill="#e7e7f2"/>
<rect x="723.10" y="315.27" width="69.80" height="24.92" fill="#fef8f8"/>
<rect x="792.20" y="315.27" width="68.10" height="24.92" fill="#fde5e6"/>
<rect x="587.90" y="339.48" width="67.20" height="24.92" fill="#cecee5"/>
<rect x="654.40" y="339.48" width="69.40" height="24.92" fill="#c5c5e1"/>
<rect x="723.10" y="339.48" width="69.80" height="24.92" fill="#efeff6"/>
<rect x="792.20" y="339.48" width="68.10" height="24.92" fill="#8888c1"/>
<rect x="587.90" y="363.70" width="67.20" height="24.92" fill="#e3e3f0"/>
<rect x="654.40" y="363.70" width="69.40" height="24.92" fill="#7677b7"/>
<rect x="723.10" y="363.70" width="69.80" height="24.92" fill="#e3e3f0"/>
<rect x="792.20" y="363.70" width="68.10" height="24.92" fill="#d2d2e7"/>
<rect x="587.90" y="387.92" width="67.20" height="24.92" fill="#f7f7fb"/>
<rect x="654.40" y="387.92" width="69.40" height="24.92" fill="#ffffff"/>
<rect x="723.10" y="387.92" width="69.80" height="24.92" fill="#fef8f8"/>
<rect x="792.20" y="387.92" width="68.10" height="24.92" fill="#afafd5"/>
<rect x="587.90" y="412.13" width="67.20" height="24.92" fill="#fcdadb"/>
<rect x="654.40" y="412.13" width="69.40" height="24.92" fill="#f9b8bb"/>
<rect x="723.10" y="412.13" width="69.80" height="24.92" fill="#fcdadb"/>
<rect x="792.20" y="412.13" width="68.10" height="24.92" fill="#fde1e2"/>
<rect x="587.90" y="436.35" width="67.20" height="24.92" fill="#fef8f8"/>
<rect x="654.40" y="436.35" width="69.40" height="24.92" fill="#c1c1de"/>
<rect x="723.10" y="436.35" width="69.80" height="24.92" fill="#dfdfee"/>
<rect x="792.20" y="436.35" width="68.10" height="24.92" fill="#fef4f4"/>
<rect x="587.90" y="460.56" width="67.20" height="24.92" fill="#a2a2cf"/>
<rect x="654.40" y="460.56" width="69.40" height="24.92" fill="#c9c9e3"/>
<rect x="723.10" y="460.56" width="69.80" height="24.92" fill="#ebebf4"/>
<rect x="792.20" y="460.56" width="68.10" height="24.92" fill="#8888c1"/>
<rect x="587.90" y="484.78" width="67.20" height="24.92" fill="#f7f7fb"/>
<rect x="654.40" y="484.78" width="69.40" height="24.92" fill="#ebebf4"/>
<rect x="723.10" y="484.78" width="69.80" height="24.92" fill="#fffbfb"/>
<rect x="792.20" y="484.78" width="68.10" height="24.92" fill="#f7f7fb"/>
<rect x="587.90" y="508.99" width="67.20" height="24.92" fill="#f7f7fb"/>
<rect x="654.40" y="508.99" width="69.40" height="24.92" fill="#fef0f1"/>
<rect x="723.10" y="508.99" width="69.80" height="24.92" fill="#fbfbfd"/>
<rect x="792.20" y="508.99" width="68.10" height="24.92" fill="#feeced"/>
<rect x="587.90" y="533.21" width="67.20" height="24.92" fill="#feeced"/>
<rect x="654.40" y="533.21" width="69.40" height="24.92" fill="#efeff6"/>
<rect x="723.10" y="533.21" width="69.80" height="24.92" fill="#f7f7fb"/>
<rect x="792.20" y="533.21" width="68.10" height="24.92" fill="#dbdbec"/>
<rect x="587.90" y="557.42" width="67.20" height="24.92" fill="#fde1e2"/>
<rect x="654.40" y="557.42" width="69.40" height="24.92" fill="#fcdadb"/>
<rect x="723.10" y="557.42" width="69.80" height="24.92" fill="#fde9e9"/>
<rect x="792.20" y="557.42" width="68.10" height="24.92" fill="#feeced"/>
<rect x="587.90" y="581.64" width="67.20" height="24.92" fill="#fbcfd0"/>
<rect x="654.40" y="581.64" width="69.40" height="24.92" fill="#fcdadb"/>
<rect x="723.10" y="581.64" width="69.80" height="24.92" fill="#fcdedf"/>
<rect x="792.20" y="581.64" width="68.10" height="24.92" fill="#efeff6"/>
<rect x="587.90" y="605.85" width="67.20" height="24.92" fill="#f9b8bb"/>
<rect x="654.40" y="605.85" width="69.40" height="24.92" fill="#ed1f26"/>
<rect x="723.10" y="605.85" width="69.80" height="24.92" fill="#fbcfd0"/>
<rect x="792.20" y="605.85" width="68.10" height="24.92" fill="#f8a6a9"/>
<rect x="587.90" y="630.07" width="67.20" height="24.92" fill="#fbd2d4"/>
<rect x="654.40" y="630.07" width="69.40" height="24.92" fill="#bcbcdc"/>
<rect x="723.10" y="630.07" width="69.80" height="24.92" fill="#d6d6ea"/>
<rect x="792.20" y="630.07" width="68.10" height="24.92" fill="#fbfbfd"/>
<rect x="587.90" y="654.28" width="67.20" height="24.92" fill="#f9b5b7"/>
<rect x="654.40" y="654.28" width="69.40" height="24.92" fill="#fffbfb"/>
<rect x="723.10" y="654.28" width="69.80" height="24.92" fill="#fef0f1"/>
<rect x="792.20" y="654.28" width="68.10" height="24.92" fill="#f79fa2"/>
<rect x="587.90" y="678.50" width="67.20" height="24.92" fill="#fbcbcd"/>
<rect x="654.40" y="678.50" width="69.40" height="24.92" fill="#f3f3f9"/>
<rect x="723.10" y="678.50" width="69.80" height="24.92" fill="#fde9e9"/>
<rect x="792.20" y="678.50" width="68.10" height="24.92" fill="#fac4c5"/>
<rect x="587.90" y="702.72" width="67.20" height="24.92" fill="#dbdbec"/>
<rect x="654.40" y="702.72" width="69.40" height="24.92" fill="#d2d2e7"/>
<rect x="723.10" y="702.72" width="69.80" height="24.92" fill="#efeff6"/>
<rect x="792.20" y="702.72" width="68.10" height="24.92" fill="#a2a2cf"/>
<rect x="587.90" y="726.93" width="67.20" height="24.92" fill="#efeff6"/>
<rect x="654.40" y="726.93" width="69.40" height="24.92" fill="#c9c9e3"/>
<rect x="723.10" y="726.93" width="69.80" height="24.92" fill="#fbfbfd"/>
<rect x="792.20" y="726.93" width="68.10" height="24.92" fill="#9a9aca"/>
<rect x="587.90" y="751.15" width="67.20" height="24.92" fill="#ebebf4"/>
<rect x="654.40" y="751.15" width="69.40" height="24.92" fill="#ebebf4"/>
<rect x="723.10" y="751.15" width="69.80" height="24.92" fill="#f7f7fb"/>
<rect x="792.20" y="751.15" width="68.10" height="24.92" fill="#c9c9e3"/>
<rect x="587.90" y="775.36" width="67.20" height="24.92" fill="#f3f3f9"/>
<rect x="654.40" y="775.36" width="69.40" height="24.92" fill="#fbfbfd"/>
<rect x="723.10" y="775.36" width="69.80" height="24.92" fill="#f7f7fb"/>
<rect x="792.20" y="775.36" width="68.10" height="24.92" fill="#b4b4d8"/>
<rect x="587.90" y="799.58" width="67.20" height="24.92" fill="#9595c8"/>
<rect x="654.40" y="799.58" width="69.40" height="24.92" fill="#686ab0"/>
<rect x="723.10" y="799.58" width="69.80" height="24.92" fill="#f3f3f9"/>
<rect x="792.20" y="799.58" width="68.10" height="24.92" fill="#8080bc"/>
<rect x="587.90" y="823.79" width="67.20" height="24.92" fill="#ababd3"/>
<rect x="654.40" y="823.79" width="69.40" height="24.92" fill="#6568af"/>
<rect x="723.10" y="823.79" width="69.80" height="24.92" fill="#bcbcdc"/>
<rect x="792.20" y="823.79" width="68.10" height="24.92" fill="#8484bf"/>
<rect x="587.90" y="848.01" width="67.20" height="24.92" fill="#f26368"/>
<rect x="654.40" y="848.01" width="69.40" height="24.92" fill="#fac4c5"/>
<rect x="723.10" y="848.01" width="69.80" height="24.92" fill="#feeced"/>
<rect x="792.20" y="848.01" width="68.10" height="24.92" fill="#fcd6d7"/>
<rect x="587.90" y="872.22" width="67.20" height="24.92" fill="#f69093"/>
<rect x="654.40" y="872.22" width="69.40" height="24.92" fill="#e3e3f0"/>
<rect x="723.10" y="872.22" width="69.80" height="24.92" fill="#efeff6"/>
<rect x="792.20" y="872.22" width="68.10" height="24.92" fill="#fbcfd0"/>
<rect x="587.90" y="896.44" width="67.20" height="24.92" fill="#b4b4d8"/>
<rect x="654.40" y="896.44" width="69.40" height="24.92" fill="#f36e73"/>
<rect x="723.10" y="896.44" width="69.80" height="24.92" fill="#f7979a"/>
<rect x="792.20" y="896.44" width="68.10" height="24.92" fill="#c5c5e1"/>
<rect x="587.90" y="920.65" width="67.20" height="24.92" fill="#e3e3f0"/>
<rect x="654.40" y="920.65" width="69.40" height="24.92" fill="#f25c61"/>
<rect x="723.10" y="920.65" width="69.80" height="24.92" fill="#f4767a"/>
<rect x="792.20" y="920.65" width="68.10" height="24.92" fill="#b4b4d8"/>
<rect x="587.90" y="944.87" width="67.20" height="24.92" fill="#ababd3"/>
<rect x="654.40" y="944.87" width="69.40" height="24.92" fill="#ef3a40"/>
<rect x="723.10" y="944.87" width="69.80" height="24.92" fill="#f15156"/>
<rect x="792.20" y="944.87" width="68.10" height="24.92" fill="#f7f7fb"/>
<rect x="587.90" y="969.08" width="67.20" height="24.22" fill="#d2d2e7"/>
<rect x="654.40" y="969.08" width="69.40" height="24.22" fill="#f3676c"/>
<rect x="723.10" y="969.08" width="69.80" height="24.22" fill="#f58588"/>
<rect x="792.20" y="969.08" width="68.10" height="24.22" fill="#e3e3f0"/>
<rect x="587.90" y="48.90" width="272.40" height="944.40" fill="none" stroke="#1c1f20" stroke-width="1.6" stroke-linejoin="round"/>
<text transform="translate(621.15,66.91) scale(1,1.03)" font-size="15" text-anchor="middle" fill="#111111">-2.1</text>
<text transform="translate(688.75,66.91) scale(1,1.03)" font-size="15" text-anchor="middle" fill="#111111">-3.4</text>
<text transform="translate(757.65,66.91) scale(1,1.03)" font-size="15" text-anchor="middle" fill="#111111">-0.6</text>
<text transform="translate(826.25,66.91) scale(1,1.03)" font-size="15" text-anchor="middle" fill="#111111">-3.1</text>
<text transform="translate(621.15,91.12) scale(1,1.03)" font-size="15" text-anchor="middle" fill="#111111">0</text>
<text transform="translate(688.75,91.12) scale(1,1.03)" font-size="15" text-anchor="middle" fill="#111111">0.5</text>
<text transform="translate(757.65,91.12) scale(1,1.03)" font-size="15" text-anchor="middle" fill="#111111">0</text>
<text transform="translate(826.25,91.12) scale(1,1.03)" font-size="15" text-anchor="middle" fill="#111111">-1.2</text>
<text transform="translate(621.15,115.34) scale(1,1.03)" font-size="15" text-anchor="middle" fill="#111111">1.3</text>
<text transform="translate(688.75,115.34) scale(1,1.03)" font-size="15" text-anchor="middle" fill="#111111">1.1</text>
<text transform="translate(757.65,115.34) scale(1,1.03)" font-size="15" text-anchor="middle" fill="#111111">0.2</text>
<text transform="translate(826.25,115.34) scale(1,1.03)" font-size="15" text-anchor="middle" fill="#111111">0.7</text>
<text transform="translate(621.15,139.55) scale(1,1.03)" font-size="15" text-anchor="middle" fill="#111111">6.6</text>
<text transform="translate(688.75,139.55) scale(1,1.03)" font-size="15" text-anchor="middle" fill="#111111">0.7</text>
<text transform="translate(757.65,139.55) scale(1,1.03)" font-size="15" text-anchor="middle" fill="#111111">0.8</text>
<text transform="translate(826.25,139.55) scale(1,1.03)" font-size="15" text-anchor="middle" fill="#111111">5.6</text>
<text transform="translate(621.15,163.77) scale(1,1.03)" font-size="15" text-anchor="middle" fill="#111111">-2.5</text>
<text transform="translate(688.75,163.77) scale(1,1.03)" font-size="15" text-anchor="middle" fill="#111111">-1.7</text>
<text transform="translate(757.65,163.77) scale(1,1.03)" font-size="15" text-anchor="middle" fill="#111111">-0.7</text>
<text transform="translate(826.25,163.77) scale(1,1.03)" font-size="15" text-anchor="middle" fill="#111111">-1.1</text>
<text transform="translate(621.15,187.98) scale(1,1.03)" font-size="15" text-anchor="middle" fill="#111111">-1.4</text>
<text transform="translate(688.75,187.98) scale(1,1.03)" font-size="15" text-anchor="middle" fill="#111111">0.3</text>
<text transform="translate(757.65,187.98) scale(1,1.03)" font-size="15" text-anchor="middle" fill="#111111">0</text>
<text transform="translate(826.25,187.98) scale(1,1.03)" font-size="15" text-anchor="middle" fill="#111111">-1.0</text>
<text transform="translate(621.15,212.20) scale(1,1.03)" font-size="15" text-anchor="middle" fill="#111111">-2.7</text>
<text transform="translate(688.75,212.20) scale(1,1.03)" font-size="15" text-anchor="middle" fill="#111111">-3.3</text>
<text transform="translate(757.65,212.20) scale(1,1.03)" font-size="15" text-anchor="middle" fill="#111111">-0.7</text>
<text transform="translate(826.25,212.20) scale(1,1.03)" font-size="15" text-anchor="middle" fill="#111111">-3.7</text>
<text transform="translate(621.15,236.42) scale(1,1.03)" font-size="15" text-anchor="middle" fill="#111111">-2.1</text>
<text transform="translate(688.75,236.42) scale(1,1.03)" font-size="15" text-anchor="middle" fill="#111111">-2.3</text>
<text transform="translate(757.65,236.42) scale(1,1.03)" font-size="15" text-anchor="middle" fill="#111111">-0.8</text>
<text transform="translate(826.25,236.42) scale(1,1.03)" font-size="15" text-anchor="middle" fill="#111111">-2.5</text>
<text transform="translate(621.15,260.63) scale(1,1.03)" font-size="15" text-anchor="middle" fill="#111111">-2.4</text>
<text transform="translate(688.75,260.63) scale(1,1.03)" font-size="15" text-anchor="middle" fill="#111111">-1.1</text>
<text transform="translate(757.65,260.63) scale(1,1.03)" font-size="15" text-anchor="middle" fill="#111111">0.1</text>
<text transform="translate(826.25,260.63) scale(1,1.03)" font-size="15" text-anchor="middle" fill="#111111">-0.6</text>
<text transform="translate(621.15,284.85) scale(1,1.03)" font-size="15" text-anchor="middle" fill="#111111">-0.4</text>
<text transform="translate(688.75,284.85) scale(1,1.03)" font-size="15" text-anchor="middle" fill="#111111">-1.2</text>
<text transform="translate(757.65,284.85) scale(1,1.03)" font-size="15" text-anchor="middle" fill="#111111">-1.4</text>
<text transform="translate(826.25,284.85) scale(1,1.03)" font-size="15" text-anchor="middle" fill="#111111">-0.4</text>
<text transform="translate(621.15,309.06) scale(1,1.03)" font-size="15" text-anchor="middle" fill="#111111">-0.4</text>
<text transform="translate(688.75,309.06) scale(1,1.03)" font-size="15" text-anchor="middle" fill="#111111">-1.5</text>
<text transform="translate(757.65,309.06) scale(1,1.03)" font-size="15" text-anchor="middle" fill="#111111">-0.6</text>
<text transform="translate(826.25,309.06) scale(1,1.03)" font-size="15" text-anchor="middle" fill="#111111">-2.3</text>
<text transform="translate(621.15,333.28) scale(1,1.03)" font-size="15" text-anchor="middle" fill="#111111">-0.7</text>
<text transform="translate(688.75,333.28) scale(1,1.03)" font-size="15" text-anchor="middle" fill="#111111">-0.6</text>
<text transform="translate(757.65,333.28) scale(1,1.03)" font-size="15" text-anchor="middle" fill="#111111">0.2</text>
<text transform="translate(826.25,333.28) scale(1,1.03)" font-size="15" text-anchor="middle" fill="#111111">0.7</text>
<text transform="translate(621.15,357.49) scale(1,1.03)" font-size="15" text-anchor="middle" fill="#111111">-1.2</text>
<text transform="translate(688.75,357.49) scale(1,1.03)" font-size="15" text-anchor="middle" fill="#111111">-1.4</text>
<text transform="translate(757.65,357.49) scale(1,1.03)" font-size="15" text-anchor="middle" fill="#111111">-0.4</text>
<text transform="translate(826.25,357.49) scale(1,1.03)" font-size="15" text-anchor="middle" fill="#111111">-2.8</text>
<text transform="translate(621.15,381.71) scale(1,1.03)" font-size="15" text-anchor="middle" fill="#111111">-0.7</text>
<text transform="translate(688.75,381.71) scale(1,1.03)" font-size="15" text-anchor="middle" fill="#111111">-3.2</text>
<text transform="translate(757.65,381.71) scale(1,1.03)" font-size="15" text-anchor="middle" fill="#111111">-0.7</text>
<text transform="translate(826.25,381.71) scale(1,1.03)" font-size="15" text-anchor="middle" fill="#111111">-1.1</text>
<text transform="translate(621.15,405.92) scale(1,1.03)" font-size="15" text-anchor="middle" fill="#111111">-0.2</text>
<text transform="translate(688.75,405.92) scale(1,1.03)" font-size="15" text-anchor="middle" fill="#111111">0</text>
<text transform="translate(757.65,405.92) scale(1,1.03)" font-size="15" text-anchor="middle" fill="#111111">0.2</text>
<text transform="translate(826.25,405.92) scale(1,1.03)" font-size="15" text-anchor="middle" fill="#111111">-1.9</text>
<text transform="translate(621.15,430.14) scale(1,1.03)" font-size="15" text-anchor="middle" fill="#111111">1.0</text>
<text transform="translate(688.75,430.14) scale(1,1.03)" font-size="15" text-anchor="middle" fill="#111111">1.9</text>
<text transform="translate(757.65,430.14) scale(1,1.03)" font-size="15" text-anchor="middle" fill="#111111">1.0</text>
<text transform="translate(826.25,430.14) scale(1,1.03)" font-size="15" text-anchor="middle" fill="#111111">0.8</text>
<text transform="translate(621.15,454.35) scale(1,1.03)" font-size="15" text-anchor="middle" fill="#111111">0.2</text>
<text transform="translate(688.75,454.35) scale(1,1.03)" font-size="15" text-anchor="middle" fill="#111111">-1.5</text>
<text transform="translate(757.65,454.35) scale(1,1.03)" font-size="15" text-anchor="middle" fill="#111111">-0.8</text>
<text transform="translate(826.25,454.35) scale(1,1.03)" font-size="15" text-anchor="middle" fill="#111111">0.3</text>
<text transform="translate(621.15,478.57) scale(1,1.03)" font-size="15" text-anchor="middle" fill="#111111">-2.2</text>
<text transform="translate(688.75,478.57) scale(1,1.03)" font-size="15" text-anchor="middle" fill="#111111">-1.3</text>
<text transform="translate(757.65,478.57) scale(1,1.03)" font-size="15" text-anchor="middle" fill="#111111">-0.5</text>
<text transform="translate(826.25,478.57) scale(1,1.03)" font-size="15" text-anchor="middle" fill="#111111">-2.8</text>
<text transform="translate(621.15,502.78) scale(1,1.03)" font-size="15" text-anchor="middle" fill="#111111">-0.2</text>
<text transform="translate(688.75,502.78) scale(1,1.03)" font-size="15" text-anchor="middle" fill="#111111">-0.5</text>
<text transform="translate(757.65,502.78) scale(1,1.03)" font-size="15" text-anchor="middle" fill="#111111">0.1</text>
<text transform="translate(826.25,502.78) scale(1,1.03)" font-size="15" text-anchor="middle" fill="#111111">-0.2</text>
<text transform="translate(621.15,527.00) scale(1,1.03)" font-size="15" text-anchor="middle" fill="#111111">-0.2</text>
<text transform="translate(688.75,527.00) scale(1,1.03)" font-size="15" text-anchor="middle" fill="#111111">0.4</text>
<text transform="translate(757.65,527.00) scale(1,1.03)" font-size="15" text-anchor="middle" fill="#111111">-0.1</text>
<text transform="translate(826.25,527.00) scale(1,1.03)" font-size="15" text-anchor="middle" fill="#111111">0.5</text>
<text transform="translate(621.15,551.22) scale(1,1.03)" font-size="15" text-anchor="middle" fill="#111111">0.5</text>
<text transform="translate(688.75,551.22) scale(1,1.03)" font-size="15" text-anchor="middle" fill="#111111">-0.4</text>
<text transform="translate(757.65,551.22) scale(1,1.03)" font-size="15" text-anchor="middle" fill="#111111">-0.2</text>
<text transform="translate(826.25,551.22) scale(1,1.03)" font-size="15" text-anchor="middle" fill="#111111">-0.9</text>
<text transform="translate(621.15,575.43) scale(1,1.03)" font-size="15" text-anchor="middle" fill="#111111">0.8</text>
<text transform="translate(688.75,575.43) scale(1,1.03)" font-size="15" text-anchor="middle" fill="#111111">1.0</text>
<text transform="translate(757.65,575.43) scale(1,1.03)" font-size="15" text-anchor="middle" fill="#111111">0.6</text>
<text transform="translate(826.25,575.43) scale(1,1.03)" font-size="15" text-anchor="middle" fill="#111111">0.5</text>
<text transform="translate(621.15,599.65) scale(1,1.03)" font-size="15" text-anchor="middle" fill="#111111">1.3</text>
<text transform="translate(688.75,599.65) scale(1,1.03)" font-size="15" text-anchor="middle" fill="#111111">1.0</text>
<text transform="translate(757.65,599.65) scale(1,1.03)" font-size="15" text-anchor="middle" fill="#111111">0.9</text>
<text transform="translate(826.25,599.65) scale(1,1.03)" font-size="15" text-anchor="middle" fill="#111111">-0.4</text>
<text transform="translate(621.15,623.86) scale(1,1.03)" font-size="15" text-anchor="middle" fill="#111111">1.9</text>
<text transform="translate(688.75,623.86) scale(1,1.03)" font-size="15" text-anchor="middle" fill="#111111">6.7</text>
<text transform="translate(757.65,623.86) scale(1,1.03)" font-size="15" text-anchor="middle" fill="#111111">1.3</text>
<text transform="translate(826.25,623.86) scale(1,1.03)" font-size="15" text-anchor="middle" fill="#111111">2.4</text>
<text transform="translate(621.15,648.08) scale(1,1.03)" font-size="15" text-anchor="middle" fill="#111111">1.2</text>
<text transform="translate(688.75,648.08) scale(1,1.03)" font-size="15" text-anchor="middle" fill="#111111">-1.6</text>
<text transform="translate(757.65,648.08) scale(1,1.03)" font-size="15" text-anchor="middle" fill="#111111">-1.0</text>
<text transform="translate(826.25,648.08) scale(1,1.03)" font-size="15" text-anchor="middle" fill="#111111">-0.1</text>
<text transform="translate(621.15,672.29) scale(1,1.03)" font-size="15" text-anchor="middle" fill="#111111">2.0</text>
<text transform="translate(688.75,672.29) scale(1,1.03)" font-size="15" text-anchor="middle" fill="#111111">0.1</text>
<text transform="translate(757.65,672.29) scale(1,1.03)" font-size="15" text-anchor="middle" fill="#111111">0.4</text>
<text transform="translate(826.25,672.29) scale(1,1.03)" font-size="15" text-anchor="middle" fill="#111111">2.6</text>
<text transform="translate(621.15,696.51) scale(1,1.03)" font-size="15" text-anchor="middle" fill="#111111">1.4</text>
<text transform="translate(688.75,696.51) scale(1,1.03)" font-size="15" text-anchor="middle" fill="#111111">-0.3</text>
<text transform="translate(757.65,696.51) scale(1,1.03)" font-size="15" text-anchor="middle" fill="#111111">0.6</text>
<text transform="translate(826.25,696.51) scale(1,1.03)" font-size="15" text-anchor="middle" fill="#111111">1.6</text>
<text transform="translate(621.15,720.72) scale(1,1.03)" font-size="15" text-anchor="middle" fill="#111111">-0.9</text>
<text transform="translate(688.75,720.72) scale(1,1.03)" font-size="15" text-anchor="middle" fill="#111111">-1.1</text>
<text transform="translate(757.65,720.72) scale(1,1.03)" font-size="15" text-anchor="middle" fill="#111111">-0.4</text>
<text transform="translate(826.25,720.72) scale(1,1.03)" font-size="15" text-anchor="middle" fill="#111111">-2.2</text>
<text transform="translate(621.15,744.94) scale(1,1.03)" font-size="15" text-anchor="middle" fill="#111111">-0.4</text>
<text transform="translate(688.75,744.94) scale(1,1.03)" font-size="15" text-anchor="middle" fill="#111111">-1.3</text>
<text transform="translate(757.65,744.94) scale(1,1.03)" font-size="15" text-anchor="middle" fill="#111111">-0.1</text>
<text transform="translate(826.25,744.94) scale(1,1.03)" font-size="15" text-anchor="middle" fill="#111111">-2.4</text>
<text transform="translate(621.15,769.15) scale(1,1.03)" font-size="15" text-anchor="middle" fill="#111111">-0.5</text>
<text transform="translate(688.75,769.15) scale(1,1.03)" font-size="15" text-anchor="middle" fill="#111111">-0.5</text>
<text transform="translate(757.65,769.15) scale(1,1.03)" font-size="15" text-anchor="middle" fill="#111111">-0.2</text>
<text transform="translate(826.25,769.15) scale(1,1.03)" font-size="15" text-anchor="middle" fill="#111111">-1.3</text>
<text transform="translate(621.15,793.37) scale(1,1.03)" font-size="15" text-anchor="middle" fill="#111111">-0.3</text>
<text transform="translate(688.75,793.37) scale(1,1.03)" font-size="15" text-anchor="middle" fill="#111111">-0.1</text>
<text transform="translate(757.65,793.37) scale(1,1.03)" font-size="15" text-anchor="middle" fill="#111111">-0.2</text>
<text transform="translate(826.25,793.37) scale(1,1.03)" font-size="15" text-anchor="middle" fill="#111111">-1.8</text>
<text transform="translate(621.15,817.58) scale(1,1.03)" font-size="15" text-anchor="middle" fill="#111111">-2.5</text>
<text transform="translate(688.75,817.58) scale(1,1.03)" font-size="15" text-anchor="middle" fill="#111111">-3.5</text>
<text transform="translate(757.65,817.58) scale(1,1.03)" font-size="15" text-anchor="middle" fill="#111111">-0.3</text>
<text transform="translate(826.25,817.58) scale(1,1.03)" font-size="15" text-anchor="middle" fill="#111111">-3.0</text>
<text transform="translate(621.15,841.80) scale(1,1.03)" font-size="15" text-anchor="middle" fill="#111111">-2.0</text>
<text transform="translate(688.75,841.80) scale(1,1.03)" font-size="15" text-anchor="middle" fill="#111111">-3.6</text>
<text transform="translate(757.65,841.80) scale(1,1.03)" font-size="15" text-anchor="middle" fill="#111111">-1.6</text>
<text transform="translate(826.25,841.80) scale(1,1.03)" font-size="15" text-anchor="middle" fill="#111111">-2.9</text>
<text transform="translate(621.15,866.02) scale(1,1.03)" font-size="15" text-anchor="middle" fill="#111111">4.2</text>
<text transform="translate(688.75,866.02) scale(1,1.03)" font-size="15" text-anchor="middle" fill="#111111">1.6</text>
<text transform="translate(757.65,866.02) scale(1,1.03)" font-size="15" text-anchor="middle" fill="#111111">0.5</text>
<text transform="translate(826.25,866.02) scale(1,1.03)" font-size="15" text-anchor="middle" fill="#111111">1.1</text>
<text transform="translate(621.15,890.23) scale(1,1.03)" font-size="15" text-anchor="middle" fill="#111111">3.0</text>
<text transform="translate(688.75,890.23) scale(1,1.03)" font-size="15" text-anchor="middle" fill="#111111">-0.7</text>
<text transform="translate(757.65,890.23) scale(1,1.03)" font-size="15" text-anchor="middle" fill="#111111">-0.4</text>
<text transform="translate(826.25,890.23) scale(1,1.03)" font-size="15" text-anchor="middle" fill="#111111">1.3</text>
<text transform="translate(621.15,914.45) scale(1,1.03)" font-size="15" text-anchor="middle" fill="#111111">-1.8</text>
<text transform="translate(688.75,914.45) scale(1,1.03)" font-size="15" text-anchor="middle" fill="#111111">3.9</text>
<text transform="translate(757.65,914.45) scale(1,1.03)" font-size="15" text-anchor="middle" fill="#111111">2.8</text>
<text transform="translate(826.25,914.45) scale(1,1.03)" font-size="15" text-anchor="middle" fill="#111111">-1.4</text>
<text transform="translate(621.15,938.66) scale(1,1.03)" font-size="15" text-anchor="middle" fill="#111111">-0.7</text>
<text transform="translate(688.75,938.66) scale(1,1.03)" font-size="15" text-anchor="middle" fill="#111111">4.4</text>
<text transform="translate(757.65,938.66) scale(1,1.03)" font-size="15" text-anchor="middle" fill="#111111">3.7</text>
<text transform="translate(826.25,938.66) scale(1,1.03)" font-size="15" text-anchor="middle" fill="#111111">-1.8</text>
<text transform="translate(621.15,962.88) scale(1,1.03)" font-size="15" text-anchor="middle" fill="#111111">-2.0</text>
<text transform="translate(688.75,962.88) scale(1,1.03)" font-size="15" text-anchor="middle" fill="#111111">5.3</text>
<text transform="translate(757.65,962.88) scale(1,1.03)" font-size="15" text-anchor="middle" fill="#111111">4.7</text>
<text transform="translate(826.25,962.88) scale(1,1.03)" font-size="15" text-anchor="middle" fill="#111111">-0.2</text>
<text transform="translate(621.15,987.09) scale(1,1.03)" font-size="15" text-anchor="middle" fill="#111111">-1.1</text>
<text transform="translate(688.75,987.09) scale(1,1.03)" font-size="15" text-anchor="middle" fill="#111111">4.1</text>
<text transform="translate(757.65,987.09) scale(1,1.03)" font-size="15" text-anchor="middle" fill="#111111">3.3</text>
<text transform="translate(826.25,987.09) scale(1,1.03)" font-size="15" text-anchor="middle" fill="#111111">-0.7</text>
<text transform="translate(576.90,67.31) scale(1,1.05)" font-size="18.5" font-style="italic" text-anchor="end" fill="#111">pgk</text>
<text transform="translate(576.90,91.52) scale(1,1.05)" font-size="18.5" font-style="italic" text-anchor="end" fill="#111">pgi</text>
<text transform="translate(576.90,115.74) scale(1,1.05)" font-size="18.5" font-style="italic" text-anchor="end" fill="#111">pfkA</text>
<text transform="translate(576.90,139.95) scale(1,1.05)" font-size="18.5" font-style="italic" text-anchor="end" fill="#111">pfkB</text>
<text transform="translate(576.90,164.17) scale(1,1.05)" font-size="18.5" font-style="italic" text-anchor="end" fill="#111">glpX</text>
<text transform="translate(576.90,188.38) scale(1,1.05)" font-size="18.5" font-style="italic" text-anchor="end" fill="#111">fba</text>
<text transform="translate(576.90,212.60) scale(1,1.05)" font-size="18.5" font-style="italic" text-anchor="end" fill="#111">tpi</text>
<text transform="translate(576.90,236.82) scale(1,1.05)" font-size="18.5" font-style="italic" text-anchor="end" fill="#111">gap</text>
<text transform="translate(576.90,261.03) scale(1,1.05)" font-size="18.5" font-style="italic" text-anchor="end" fill="#111">pgmA</text>
<text transform="translate(576.90,285.25) scale(1,1.05)" font-size="18.5" font-style="italic" text-anchor="end" fill="#111">gpm1</text>
<text transform="translate(576.90,309.46) scale(1,1.05)" font-size="18.5" font-style="italic" text-anchor="end" fill="#111">eno</text>
<text transform="translate(576.90,333.68) scale(1,1.05)" font-size="18.5" font-style="italic" text-anchor="end" fill="#111">pykA</text>
<text transform="translate(576.90,357.89) scale(1,1.05)" font-size="18.5" font-style="italic" text-anchor="end" fill="#111">aceE</text>
<text transform="translate(576.90,382.11) scale(1,1.05)" font-size="18.5" font-style="italic" text-anchor="end" fill="#111">lpdC</text>
<text transform="translate(576.90,406.32) scale(1,1.05)" font-size="18.5" font-style="italic" text-anchor="end" fill="#111">pca</text>
<text transform="translate(576.90,430.54) scale(1,1.05)" font-size="18.5" font-style="italic" text-anchor="end" fill="#111">pckA</text>
<text transform="translate(576.90,454.75) scale(1,1.05)" font-size="18.5" font-style="italic" text-anchor="end" fill="#111">citA</text>
<text transform="translate(576.90,478.97) scale(1,1.05)" font-size="18.5" font-style="italic" text-anchor="end" fill="#111">gltA2</text>
<text transform="translate(576.90,503.18) scale(1,1.05)" font-size="18.5" font-style="italic" text-anchor="end" fill="#111">acn</text>
<text transform="translate(576.90,527.40) scale(1,1.05)" font-size="18.5" font-style="italic" text-anchor="end" fill="#111">icd1</text>
<text transform="translate(576.90,551.62) scale(1,1.05)" font-size="18.5" font-style="italic" text-anchor="end" fill="#111">icd2</text>
<text transform="translate(576.90,575.83) scale(1,1.05)" font-size="18.5" font-style="italic" text-anchor="end" fill="#111">aceAa</text>
<text transform="translate(576.90,600.05) scale(1,1.05)" font-size="18.5" font-style="italic" text-anchor="end" fill="#111">aceAb</text>
<text transform="translate(576.90,624.26) scale(1,1.05)" font-size="18.5" font-style="italic" text-anchor="end" fill="#111">icl1</text>
<text transform="translate(576.90,648.48) scale(1,1.05)" font-size="18.5" font-style="italic" text-anchor="end" fill="#111">glcB</text>
<text transform="translate(576.90,672.69) scale(1,1.05)" font-size="18.5" font-style="italic" text-anchor="end" fill="#111">korA</text>
<text transform="translate(576.90,696.91) scale(1,1.05)" font-size="18.5" font-style="italic" text-anchor="end" fill="#111">korB</text>
<text transform="translate(576.90,721.12) scale(1,1.05)" font-size="18.5" font-style="italic" text-anchor="end" fill="#111">sdhA</text>
<text transform="translate(576.90,745.34) scale(1,1.05)" font-size="18.5" font-style="italic" text-anchor="end" fill="#111">sdhB</text>
<text transform="translate(576.90,769.55) scale(1,1.05)" font-size="18.5" font-style="italic" text-anchor="end" fill="#111">sdhC</text>
<text transform="translate(576.90,793.77) scale(1,1.05)" font-size="18.5" font-style="italic" text-anchor="end" fill="#111">sdhD</text>
<text transform="translate(576.90,817.98) scale(1,1.05)" font-size="18.5" font-style="italic" text-anchor="end" fill="#111">fum</text>
<text transform="translate(576.90,842.20) scale(1,1.05)" font-size="18.5" font-style="italic" text-anchor="end" fill="#111">mdh</text>
<text transform="translate(576.90,866.42) scale(1,1.05)" font-size="18.5" font-style="italic" text-anchor="end" fill="#111">citE</text>
<text transform="translate(576.90,890.63) scale(1,1.05)" font-size="18.5" font-style="italic" text-anchor="end" fill="#111">mqo</text>
<text transform="translate(576.90,914.85) scale(1,1.05)" font-size="18.5" font-style="italic" text-anchor="end" fill="#111">frdA</text>
<text transform="translate(576.90,939.06) scale(1,1.05)" font-size="18.5" font-style="italic" text-anchor="end" fill="#111">frdB</text>
<text transform="translate(576.90,963.28) scale(1,1.05)" font-size="18.5" font-style="italic" text-anchor="end" fill="#111">frdC</text>
<text transform="translate(576.90,987.49) scale(1,1.05)" font-size="18.5" font-style="italic" text-anchor="end" fill="#111">frdD</text>
<text transform="translate(621.15,1020.80) scale(1,1.03)" font-size="18.5" text-anchor="middle" fill="#111">1%O<tspan font-size="13">2</tspan></text>
<text transform="translate(688.75,1020.80) scale(1,1.03)" font-size="18.5" text-anchor="middle" fill="#111">PBS</text>
<text transform="translate(757.65,1020.80) scale(1,1.03)" font-size="18.5" text-anchor="middle" fill="#111">pH</text>
<text transform="translate(826.25,1020.80) scale(1,1.03)" font-size="18.5" text-anchor="middle" fill="#111">StPh</text>
<rect x="895.00" y="48.90" width="34.00" height="943.90" fill="url(#gradB)" stroke="#1c1f20" stroke-width="1.6" stroke-linejoin="round"/>
<line x1="895.00" y1="100.93" x2="901.00" y2="100.93" stroke="#1c1f20" stroke-width="1.6"/>
<line x1="923.00" y1="100.93" x2="929.00" y2="100.93" stroke="#1c1f20" stroke-width="1.6"/>
<text transform="translate(941.30,108.83) scale(1,1.06)" font-size="22.5" fill="#111">6</text>
<line x1="895.00" y1="249.57" x2="901.00" y2="249.57" stroke="#1c1f20" stroke-width="1.6"/>
<line x1="923.00" y1="249.57" x2="929.00" y2="249.57" stroke="#1c1f20" stroke-width="1.6"/>
<text transform="translate(941.30,257.47) scale(1,1.06)" font-size="22.5" fill="#111">4</text>
<line x1="895.00" y1="398.22" x2="901.00" y2="398.22" stroke="#1c1f20" stroke-width="1.6"/>
<line x1="923.00" y1="398.22" x2="929.00" y2="398.22" stroke="#1c1f20" stroke-width="1.6"/>
<text transform="translate(941.30,406.12) scale(1,1.06)" font-size="22.5" fill="#111">2</text>
<line x1="895.00" y1="546.86" x2="901.00" y2="546.86" stroke="#1c1f20" stroke-width="1.6"/>
<line x1="923.00" y1="546.86" x2="929.00" y2="546.86" stroke="#1c1f20" stroke-width="1.6"/>
<text transform="translate(941.30,554.76) scale(1,1.06)" font-size="22.5" fill="#111">0</text>
<line x1="895.00" y1="695.51" x2="901.00" y2="695.51" stroke="#1c1f20" stroke-width="1.6"/>
<line x1="923.00" y1="695.51" x2="929.00" y2="695.51" stroke="#1c1f20" stroke-width="1.6"/>
<text transform="translate(941.30,703.41) scale(1,1.06)" font-size="22.5" fill="#111">-2</text>
<line x1="895.00" y1="844.15" x2="901.00" y2="844.15" stroke="#1c1f20" stroke-width="1.6"/>
<line x1="923.00" y1="844.15" x2="929.00" y2="844.15" stroke="#1c1f20" stroke-width="1.6"/>
<text transform="translate(941.30,852.05) scale(1,1.06)" font-size="22.5" fill="#111">-4</text>
<text transform="translate(941.30,1000.70) scale(1,1.06)" font-size="22.5" fill="#111">-6</text>
<rect x="1095.50" y="48.60" width="69.20" height="25.18" fill="#7677b7"/>
<rect x="1164.00" y="48.60" width="67.80" height="25.18" fill="#fbc9cb"/>
<rect x="1231.10" y="48.60" width="69.40" height="25.18" fill="#fbc9cb"/>
<rect x="1299.80" y="48.60" width="68.50" height="25.18" fill="#8484bf"/>
<rect x="1095.50" y="73.08" width="69.20" height="25.18" fill="#f47a7f"/>
<rect x="1164.00" y="73.08" width="67.80" height="25.18" fill="#f5878b"/>
<rect x="1231.10" y="73.08" width="69.40" height="25.18" fill="#efeff6"/>
<rect x="1299.80" y="73.08" width="68.50" height="25.18" fill="#fbcdcf"/>
<rect x="1095.50" y="97.55" width="69.20" height="25.18" fill="#fde6e7"/>
<rect x="1164.00" y="97.55" width="67.80" height="25.18" fill="#fde2e3"/>
<rect x="1231.10" y="97.55" width="69.40" height="25.18" fill="#fef7f7"/>
<rect x="1299.80" y="97.55" width="68.50" height="25.18" fill="#fabdbf"/>
<rect x="1095.50" y="122.03" width="69.20" height="25.18" fill="#f4767b"/>
<rect x="1164.00" y="122.03" width="67.80" height="25.18" fill="#ef3c42"/>
<rect x="1231.10" y="122.03" width="69.40" height="25.18" fill="#f8a8ab"/>
<rect x="1299.80" y="122.03" width="68.50" height="25.18" fill="#fcdedf"/>
<rect x="1095.50" y="146.51" width="69.20" height="25.18" fill="#f4767b"/>
<rect x="1164.00" y="146.51" width="67.80" height="25.18" fill="#f69397"/>
<rect x="1231.10" y="146.51" width="69.40" height="25.18" fill="#f9b4b7"/>
<rect x="1299.80" y="146.51" width="68.50" height="25.18" fill="#e7e7f2"/>
<rect x="1095.50" y="170.98" width="69.20" height="25.18" fill="#f5878b"/>
<rect x="1164.00" y="170.98" width="67.80" height="25.18" fill="#f8a4a7"/>
<rect x="1231.10" y="170.98" width="69.40" height="25.18" fill="#fabdbf"/>
<rect x="1299.80" y="170.98" width="68.50" height="25.18" fill="#e7e7f2"/>
<rect x="1095.50" y="195.46" width="69.20" height="25.18" fill="#f36e72"/>
<rect x="1164.00" y="195.46" width="67.80" height="25.18" fill="#f8a8ab"/>
<rect x="1231.10" y="195.46" width="69.40" height="25.18" fill="#f9b9bb"/>
<rect x="1299.80" y="195.46" width="68.50" height="25.18" fill="#f3f3f9"/>
<rect x="1095.50" y="219.94" width="69.20" height="25.18" fill="#ef3c42"/>
<rect x="1164.00" y="219.94" width="67.80" height="25.18" fill="#fffbfb"/>
<rect x="1231.10" y="219.94" width="69.40" height="25.18" fill="#b8b8da"/>
<rect x="1299.80" y="219.94" width="68.50" height="25.18" fill="#f79c9f"/>
<rect x="1095.50" y="244.41" width="69.20" height="25.18" fill="#cecee5"/>
<rect x="1164.00" y="244.41" width="67.80" height="25.18" fill="#f36a6e"/>
<rect x="1231.10" y="244.41" width="69.40" height="25.18" fill="#fbc9cb"/>
<rect x="1299.80" y="244.41" width="68.50" height="25.18" fill="#ffffff"/>
<rect x="1095.50" y="268.89" width="69.20" height="25.18" fill="#e3e3f0"/>
<rect x="1164.00" y="268.89" width="67.80" height="25.18" fill="#ef3c42"/>
<rect x="1231.10" y="268.89" width="69.40" height="25.18" fill="#fbc9cb"/>
<rect x="1299.80" y="268.89" width="68.50" height="25.18" fill="#ffffff"/>
<rect x="1095.50" y="293.36" width="69.20" height="25.18" fill="#fabdbf"/>
<rect x="1164.00" y="293.36" width="67.80" height="25.18" fill="#f68b8f"/>
<rect x="1231.10" y="293.36" width="69.40" height="25.18" fill="#fcdadb"/>
<rect x="1299.80" y="293.36" width="68.50" height="25.18" fill="#fcdedf"/>
<rect x="1095.50" y="317.84" width="69.20" height="25.18" fill="#f68f93"/>
<rect x="1164.00" y="317.84" width="67.80" height="25.18" fill="#f36e72"/>
<rect x="1231.10" y="317.84" width="69.40" height="25.18" fill="#fde6e7"/>
<rect x="1299.80" y="317.84" width="68.50" height="25.18" fill="#f9b0b3"/>
<rect x="1095.50" y="342.32" width="69.20" height="25.18" fill="#f7f7fb"/>
<rect x="1164.00" y="342.32" width="67.80" height="25.18" fill="#d2d2e7"/>
<rect x="1231.10" y="342.32" width="69.40" height="25.18" fill="#f7f7fb"/>
<rect x="1299.80" y="342.32" width="68.50" height="25.18" fill="#cecee5"/>
<rect x="1095.50" y="366.79" width="69.20" height="25.18" fill="#a7a7d1"/>
<rect x="1164.00" y="366.79" width="67.80" height="25.18" fill="#c1c1de"/>
<rect x="1231.10" y="366.79" width="69.40" height="25.18" fill="#f7f7fb"/>
<rect x="1299.80" y="366.79" width="68.50" height="25.18" fill="#9191c6"/>
<rect x="1095.50" y="391.27" width="69.20" height="25.18" fill="#c5c5e1"/>
<rect x="1164.00" y="391.27" width="67.80" height="25.18" fill="#b8b8da"/>
<rect x="1231.10" y="391.27" width="69.40" height="25.18" fill="#e7e7f2"/>
<rect x="1299.80" y="391.27" width="68.50" height="25.18" fill="#e3e3f0"/>
<rect x="1095.50" y="415.75" width="69.20" height="25.18" fill="#fcdadb"/>
<rect x="1164.00" y="415.75" width="67.80" height="25.18" fill="#fac1c3"/>
<rect x="1231.10" y="415.75" width="69.40" height="25.18" fill="#fde6e7"/>
<rect x="1299.80" y="415.75" width="68.50" height="25.18" fill="#efeff6"/>
<rect x="1095.50" y="440.22" width="69.20" height="24.48" fill="#f3f3f9"/>
<rect x="1164.00" y="440.22" width="67.80" height="24.48" fill="#fef3f3"/>
<rect x="1231.10" y="440.22" width="69.40" height="24.48" fill="#efeff6"/>
<rect x="1299.80" y="440.22" width="68.50" height="24.48" fill="#c1c1de"/>
<rect x="1095.50" y="48.60" width="272.80" height="416.10" fill="none" stroke="#1c1f20" stroke-width="1.6" stroke-linejoin="round"/>
<text transform="translate(1129.75,66.74) scale(1,1.03)" font-size="15" text-anchor="middle" fill="#111111">-3.2</text>
<text transform="translate(1197.55,66.74) scale(1,1.03)" font-size="15" text-anchor="middle" fill="#111111">1.3</text>
<text transform="translate(1265.45,66.74) scale(1,1.03)" font-size="15" text-anchor="middle" fill="#111111">1.3</text>
<text transform="translate(1334.05,66.74) scale(1,1.03)" font-size="15" text-anchor="middle" fill="#111111">-2.9</text>
<text transform="translate(1129.75,91.21) scale(1,1.03)" font-size="15" text-anchor="middle" fill="#111111">3.2</text>
<text transform="translate(1197.55,91.21) scale(1,1.03)" font-size="15" text-anchor="middle" fill="#111111">2.9</text>
<text transform="translate(1265.45,91.21) scale(1,1.03)" font-size="15" text-anchor="middle" fill="#111111">-0.4</text>
<text transform="translate(1334.05,91.21) scale(1,1.03)" font-size="15" text-anchor="middle" fill="#111111">1.2</text>
<text transform="translate(1129.75,115.69) scale(1,1.03)" font-size="15" text-anchor="middle" fill="#111111">0.6</text>
<text transform="translate(1197.55,115.69) scale(1,1.03)" font-size="15" text-anchor="middle" fill="#111111">0.7</text>
<text transform="translate(1265.45,115.69) scale(1,1.03)" font-size="15" text-anchor="middle" fill="#111111">0.2</text>
<text transform="translate(1334.05,115.69) scale(1,1.03)" font-size="15" text-anchor="middle" fill="#111111">1.6</text>
<text transform="translate(1129.75,140.17) scale(1,1.03)" font-size="15" text-anchor="middle" fill="#111111">3.3</text>
<text transform="translate(1197.55,140.17) scale(1,1.03)" font-size="15" text-anchor="middle" fill="#111111">4.7</text>
<text transform="translate(1265.45,140.17) scale(1,1.03)" font-size="15" text-anchor="middle" fill="#111111">2.1</text>
<text transform="translate(1334.05,140.17) scale(1,1.03)" font-size="15" text-anchor="middle" fill="#111111">0.8</text>
<text transform="translate(1129.75,164.64) scale(1,1.03)" font-size="15" text-anchor="middle" fill="#111111">3.3</text>
<text transform="translate(1197.55,164.64) scale(1,1.03)" font-size="15" text-anchor="middle" fill="#111111">2.6</text>
<text transform="translate(1265.45,164.64) scale(1,1.03)" font-size="15" text-anchor="middle" fill="#111111">1.8</text>
<text transform="translate(1334.05,164.64) scale(1,1.03)" font-size="15" text-anchor="middle" fill="#111111">-0.6</text>
<text transform="translate(1129.75,189.12) scale(1,1.03)" font-size="15" text-anchor="middle" fill="#111111">2.9</text>
<text transform="translate(1197.55,189.12) scale(1,1.03)" font-size="15" text-anchor="middle" fill="#111111">2.2</text>
<text transform="translate(1265.45,189.12) scale(1,1.03)" font-size="15" text-anchor="middle" fill="#111111">1.6</text>
<text transform="translate(1334.05,189.12) scale(1,1.03)" font-size="15" text-anchor="middle" fill="#111111">-0.6</text>
<text transform="translate(1129.75,213.60) scale(1,1.03)" font-size="15" text-anchor="middle" fill="#111111">3.5</text>
<text transform="translate(1197.55,213.60) scale(1,1.03)" font-size="15" text-anchor="middle" fill="#111111">2.1</text>
<text transform="translate(1265.45,213.60) scale(1,1.03)" font-size="15" text-anchor="middle" fill="#111111">1.7</text>
<text transform="translate(1334.05,213.60) scale(1,1.03)" font-size="15" text-anchor="middle" fill="#111111">-0.3</text>
<text transform="translate(1129.75,238.07) scale(1,1.03)" font-size="15" text-anchor="middle" fill="#111111">4.7</text>
<text transform="translate(1197.55,238.07) scale(1,1.03)" font-size="15" text-anchor="middle" fill="#111111">0.1</text>
<text transform="translate(1265.45,238.07) scale(1,1.03)" font-size="15" text-anchor="middle" fill="#111111">-1.7</text>
<text transform="translate(1334.05,238.07) scale(1,1.03)" font-size="15" text-anchor="middle" fill="#111111">2.4</text>
<text transform="translate(1129.75,262.55) scale(1,1.03)" font-size="15" text-anchor="middle" fill="#111111">-1.2</text>
<text transform="translate(1197.55,262.55) scale(1,1.03)" font-size="15" text-anchor="middle" fill="#111111">3.6</text>
<text transform="translate(1265.45,262.55) scale(1,1.03)" font-size="15" text-anchor="middle" fill="#111111">1.3</text>
<text transform="translate(1334.05,262.55) scale(1,1.03)" font-size="15" text-anchor="middle" fill="#111111">0</text>
<text transform="translate(1129.75,287.03) scale(1,1.03)" font-size="15" text-anchor="middle" fill="#111111">-0.7</text>
<text transform="translate(1197.55,287.03) scale(1,1.03)" font-size="15" text-anchor="middle" fill="#111111">4.7</text>
<text transform="translate(1265.45,287.03) scale(1,1.03)" font-size="15" text-anchor="middle" fill="#111111">1.3</text>
<text transform="translate(1334.05,287.03) scale(1,1.03)" font-size="15" text-anchor="middle" fill="#111111">0</text>
<text transform="translate(1129.75,311.50) scale(1,1.03)" font-size="15" text-anchor="middle" fill="#111111">1.6</text>
<text transform="translate(1197.55,311.50) scale(1,1.03)" font-size="15" text-anchor="middle" fill="#111111">2.8</text>
<text transform="translate(1265.45,311.50) scale(1,1.03)" font-size="15" text-anchor="middle" fill="#111111">0.9</text>
<text transform="translate(1334.05,311.50) scale(1,1.03)" font-size="15" text-anchor="middle" fill="#111111">0.8</text>
<text transform="translate(1129.75,335.98) scale(1,1.03)" font-size="15" text-anchor="middle" fill="#111111">2.7</text>
<text transform="translate(1197.55,335.98) scale(1,1.03)" font-size="15" text-anchor="middle" fill="#111111">3.5</text>
<text transform="translate(1265.45,335.98) scale(1,1.03)" font-size="15" text-anchor="middle" fill="#111111">0.6</text>
<text transform="translate(1334.05,335.98) scale(1,1.03)" font-size="15" text-anchor="middle" fill="#111111">1.9</text>
<text transform="translate(1129.75,360.46) scale(1,1.03)" font-size="15" text-anchor="middle" fill="#111111">-0.2</text>
<text transform="translate(1197.55,360.46) scale(1,1.03)" font-size="15" text-anchor="middle" fill="#111111">-1.1</text>
<text transform="translate(1265.45,360.46) scale(1,1.03)" font-size="15" text-anchor="middle" fill="#111111">-0.2</text>
<text transform="translate(1334.05,360.46) scale(1,1.03)" font-size="15" text-anchor="middle" fill="#111111">-1.2</text>
<text transform="translate(1129.75,384.93) scale(1,1.03)" font-size="15" text-anchor="middle" fill="#111111">-2.1</text>
<text transform="translate(1197.55,384.93) scale(1,1.03)" font-size="15" text-anchor="middle" fill="#111111">-1.5</text>
<text transform="translate(1265.45,384.93) scale(1,1.03)" font-size="15" text-anchor="middle" fill="#111111">-0.2</text>
<text transform="translate(1334.05,384.93) scale(1,1.03)" font-size="15" text-anchor="middle" fill="#111111">-2.6</text>
<text transform="translate(1129.75,409.41) scale(1,1.03)" font-size="15" text-anchor="middle" fill="#111111">-1.4</text>
<text transform="translate(1197.55,409.41) scale(1,1.03)" font-size="15" text-anchor="middle" fill="#111111">-1.7</text>
<text transform="translate(1265.45,409.41) scale(1,1.03)" font-size="15" text-anchor="middle" fill="#111111">-0.6</text>
<text transform="translate(1334.05,409.41) scale(1,1.03)" font-size="15" text-anchor="middle" fill="#111111">-0.7</text>
<text transform="translate(1129.75,433.89) scale(1,1.03)" font-size="15" text-anchor="middle" fill="#111111">0.9</text>
<text transform="translate(1197.55,433.89) scale(1,1.03)" font-size="15" text-anchor="middle" fill="#111111">1.5</text>
<text transform="translate(1265.45,433.89) scale(1,1.03)" font-size="15" text-anchor="middle" fill="#111111">0.6</text>
<text transform="translate(1334.05,433.89) scale(1,1.03)" font-size="15" text-anchor="middle" fill="#111111">-0.4</text>
<text transform="translate(1129.75,458.36) scale(1,1.03)" font-size="15" text-anchor="middle" fill="#111111">-0.3</text>
<text transform="translate(1197.55,458.36) scale(1,1.03)" font-size="15" text-anchor="middle" fill="#111111">0.3</text>
<text transform="translate(1265.45,458.36) scale(1,1.03)" font-size="15" text-anchor="middle" fill="#111111">-0.4</text>
<text transform="translate(1334.05,458.36) scale(1,1.03)" font-size="15" text-anchor="middle" fill="#111111">-1.5</text>
<text transform="translate(1084.50,67.14) scale(1,1.05)" font-size="18.5" font-style="italic" text-anchor="end" fill="#111">narK1</text>
<text transform="translate(1084.50,91.61) scale(1,1.05)" font-size="18.5" font-style="italic" text-anchor="end" fill="#111">narK2</text>
<text transform="translate(1084.50,116.09) scale(1,1.05)" font-size="18.5" font-style="italic" text-anchor="end" fill="#111">narU</text>
<text transform="translate(1084.50,140.57) scale(1,1.05)" font-size="18.5" font-style="italic" text-anchor="end" fill="#111">narG</text>
<text transform="translate(1084.50,165.04) scale(1,1.05)" font-size="18.5" font-style="italic" text-anchor="end" fill="#111">narH</text>
<text transform="translate(1084.50,189.52) scale(1,1.05)" font-size="18.5" font-style="italic" text-anchor="end" fill="#111">narI</text>
<text transform="translate(1084.50,214.00) scale(1,1.05)" font-size="18.5" font-style="italic" text-anchor="end" fill="#111">narJ</text>
<text transform="translate(1084.50,238.47) scale(1,1.05)" font-size="18.5" font-style="italic" text-anchor="end" fill="#111">narX</text>
<text transform="translate(1084.50,262.95) scale(1,1.05)" font-size="18.5" font-style="italic" text-anchor="end" fill="#111">nirB</text>
<text transform="translate(1084.50,287.43) scale(1,1.05)" font-size="18.5" font-style="italic" text-anchor="end" fill="#111">nirD</text>
<text transform="translate(1084.50,311.90) scale(1,1.05)" font-size="18.5" font-style="italic" text-anchor="end" fill="#111">glnB</text>
<text transform="translate(1084.50,336.38) scale(1,1.05)" font-size="18.5" font-style="italic" text-anchor="end" fill="#111">ald</text>
<text transform="translate(1084.50,360.86) scale(1,1.05)" font-size="18.5" font-style="italic" text-anchor="end" fill="#111">gdh</text>
<text transform="translate(1084.50,385.33) scale(1,1.05)" font-size="18.5" font-style="italic" text-anchor="end" fill="#111">glnA1</text>
<text transform="translate(1084.50,409.81) scale(1,1.05)" font-size="18.5" font-style="italic" text-anchor="end" fill="#111">glnA4</text>
<text transform="translate(1084.50,434.29) scale(1,1.05)" font-size="18.5" font-style="italic" text-anchor="end" fill="#111">gltB</text>
<text transform="translate(1084.50,458.76) scale(1,1.05)" font-size="18.5" font-style="italic" text-anchor="end" fill="#111">gltD</text>
<text transform="translate(1129.75,492.20) scale(1,1.03)" font-size="18.5" text-anchor="middle" fill="#111">1%O<tspan font-size="13">2</tspan></text>
<text transform="translate(1197.55,492.20) scale(1,1.03)" font-size="18.5" text-anchor="middle" fill="#111">PBS</text>
<text transform="translate(1265.45,492.20) scale(1,1.03)" font-size="18.5" text-anchor="middle" fill="#111">pH</text>
<text transform="translate(1334.05,492.20) scale(1,1.03)" font-size="18.5" text-anchor="middle" fill="#111">StPh</text>
<rect x="1402.80" y="48.60" width="34.10" height="416.30" fill="url(#gradC)" stroke="#1c1f20" stroke-width="1.6" stroke-linejoin="round"/>
<text transform="translate(1449.20,56.50) scale(1,1.06)" font-size="22.5" fill="#111">6</text>
<line x1="1402.80" y1="117.98" x2="1408.80" y2="117.98" stroke="#1c1f20" stroke-width="1.6"/>
<line x1="1430.90" y1="117.98" x2="1436.90" y2="117.98" stroke="#1c1f20" stroke-width="1.6"/>
<text transform="translate(1449.20,125.88) scale(1,1.06)" font-size="22.5" fill="#111">4</text>
<line x1="1402.80" y1="187.37" x2="1408.80" y2="187.37" stroke="#1c1f20" stroke-width="1.6"/>
<line x1="1430.90" y1="187.37" x2="1436.90" y2="187.37" stroke="#1c1f20" stroke-width="1.6"/>
<text transform="translate(1449.20,195.27) scale(1,1.06)" font-size="22.5" fill="#111">2</text>
<line x1="1402.80" y1="256.75" x2="1408.80" y2="256.75" stroke="#1c1f20" stroke-width="1.6"/>
<line x1="1430.90" y1="256.75" x2="1436.90" y2="256.75" stroke="#1c1f20" stroke-width="1.6"/>
<text transform="translate(1449.20,264.65) scale(1,1.06)" font-size="22.5" fill="#111">0</text>
<line x1="1402.80" y1="326.13" x2="1408.80" y2="326.13" stroke="#1c1f20" stroke-width="1.6"/>
<line x1="1430.90" y1="326.13" x2="1436.90" y2="326.13" stroke="#1c1f20" stroke-width="1.6"/>
<text transform="translate(1449.20,334.03) scale(1,1.06)" font-size="22.5" fill="#111">-2</text>
<line x1="1402.80" y1="395.52" x2="1408.80" y2="395.52" stroke="#1c1f20" stroke-width="1.6"/>
<line x1="1430.90" y1="395.52" x2="1436.90" y2="395.52" stroke="#1c1f20" stroke-width="1.6"/>
<text transform="translate(1449.20,403.42) scale(1,1.06)" font-size="22.5" fill="#111">-4</text>
<text transform="translate(1449.20,472.80) scale(1,1.06)" font-size="22.5" fill="#111">-6</text>
<rect x="1095.50" y="511.30" width="69.20" height="24.88" fill="#ef3c42"/>
<rect x="1164.00" y="511.30" width="67.80" height="24.88" fill="#f0494e"/>
<rect x="1231.10" y="511.30" width="69.40" height="24.88" fill="#fcd6d7"/>
<rect x="1299.80" y="511.30" width="68.50" height="24.88" fill="#f47a7f"/>
<rect x="1095.50" y="535.48" width="69.20" height="24.88" fill="#ed1f26"/>
<rect x="1164.00" y="535.48" width="67.80" height="24.88" fill="#ed1f26"/>
<rect x="1231.10" y="535.48" width="69.40" height="24.88" fill="#f0454a"/>
<rect x="1299.80" y="535.48" width="68.50" height="24.88" fill="#ed1f26"/>
<rect x="1095.50" y="559.67" width="69.20" height="24.88" fill="#ed232a"/>
<rect x="1164.00" y="559.67" width="67.80" height="24.88" fill="#ed1f26"/>
<rect x="1231.10" y="559.67" width="69.40" height="24.88" fill="#f2595e"/>
<rect x="1299.80" y="559.67" width="68.50" height="24.88" fill="#ef3c42"/>
<rect x="1095.50" y="583.85" width="69.20" height="24.88" fill="#f9b0b3"/>
<rect x="1164.00" y="583.85" width="67.80" height="24.88" fill="#ed1f26"/>
<rect x="1231.10" y="583.85" width="69.40" height="24.88" fill="#fbc9cb"/>
<rect x="1299.80" y="583.85" width="68.50" height="24.88" fill="#f79c9f"/>
<rect x="1095.50" y="608.04" width="69.20" height="24.88" fill="#f47a7f"/>
<rect x="1164.00" y="608.04" width="67.80" height="24.88" fill="#fef7f7"/>
<rect x="1231.10" y="608.04" width="69.40" height="24.88" fill="#fffbfb"/>
<rect x="1299.80" y="608.04" width="68.50" height="24.88" fill="#f79c9f"/>
<rect x="1095.50" y="632.22" width="69.20" height="24.88" fill="#f5878b"/>
<rect x="1164.00" y="632.22" width="67.80" height="24.88" fill="#efeff6"/>
<rect x="1231.10" y="632.22" width="69.40" height="24.88" fill="#ffffff"/>
<rect x="1299.80" y="632.22" width="68.50" height="24.88" fill="#fbcdcf"/>
<rect x="1095.50" y="656.41" width="69.20" height="24.88" fill="#f3666a"/>
<rect x="1164.00" y="656.41" width="67.80" height="24.88" fill="#f7979b"/>
<rect x="1231.10" y="656.41" width="69.40" height="24.88" fill="#fde2e3"/>
<rect x="1299.80" y="656.41" width="68.50" height="24.88" fill="#f8a8ab"/>
<rect x="1095.50" y="680.59" width="69.20" height="24.88" fill="#ef3c42"/>
<rect x="1164.00" y="680.59" width="67.80" height="24.88" fill="#f36a6e"/>
<rect x="1231.10" y="680.59" width="69.40" height="24.88" fill="#fbc9cb"/>
<rect x="1299.80" y="680.59" width="68.50" height="24.88" fill="#f68b8f"/>
<rect x="1095.50" y="704.78" width="69.20" height="24.88" fill="#ed1f26"/>
<rect x="1164.00" y="704.78" width="67.80" height="24.88" fill="#f25d62"/>
<rect x="1231.10" y="704.78" width="69.40" height="24.88" fill="#f9b9bb"/>
<rect x="1299.80" y="704.78" width="68.50" height="24.88" fill="#f3666a"/>
<rect x="1095.50" y="728.96" width="69.20" height="24.88" fill="#f15156"/>
<rect x="1164.00" y="728.96" width="67.80" height="24.88" fill="#fabdbf"/>
<rect x="1231.10" y="728.96" width="69.40" height="24.88" fill="#fdeaeb"/>
<rect x="1299.80" y="728.96" width="68.50" height="24.88" fill="#fbd1d3"/>
<rect x="1095.50" y="753.15" width="69.20" height="24.88" fill="#ef343a"/>
<rect x="1164.00" y="753.15" width="67.80" height="24.88" fill="#f7979b"/>
<rect x="1231.10" y="753.15" width="69.40" height="24.88" fill="#fcdedf"/>
<rect x="1299.80" y="753.15" width="68.50" height="24.88" fill="#fcdadb"/>
<rect x="1095.50" y="777.33" width="69.20" height="24.88" fill="#f14d52"/>
<rect x="1164.00" y="777.33" width="67.80" height="24.88" fill="#f58387"/>
<rect x="1231.10" y="777.33" width="69.40" height="24.88" fill="#fbcdcf"/>
<rect x="1299.80" y="777.33" width="68.50" height="24.88" fill="#fde2e3"/>
<rect x="1095.50" y="801.52" width="69.20" height="24.88" fill="#ee282e"/>
<rect x="1164.00" y="801.52" width="67.80" height="24.88" fill="#f8a8ab"/>
<rect x="1231.10" y="801.52" width="69.40" height="24.88" fill="#fcdedf"/>
<rect x="1299.80" y="801.52" width="68.50" height="24.88" fill="#f9b0b3"/>
<rect x="1095.50" y="825.70" width="69.20" height="24.88" fill="#f47277"/>
<rect x="1164.00" y="825.70" width="67.80" height="24.88" fill="#fde2e3"/>
<rect x="1231.10" y="825.70" width="69.40" height="24.88" fill="#fef3f3"/>
<rect x="1299.80" y="825.70" width="68.50" height="24.88" fill="#fdeaeb"/>
<rect x="1095.50" y="849.88" width="69.20" height="24.88" fill="#f58387"/>
<rect x="1164.00" y="849.88" width="67.80" height="24.88" fill="#fcdadb"/>
<rect x="1231.10" y="849.88" width="69.40" height="24.88" fill="#fdeaeb"/>
<rect x="1299.80" y="849.88" width="68.50" height="24.88" fill="#fbcdcf"/>
<rect x="1095.50" y="874.07" width="69.20" height="24.88" fill="#f7979b"/>
<rect x="1164.00" y="874.07" width="67.80" height="24.88" fill="#f9b4b7"/>
<rect x="1231.10" y="874.07" width="69.40" height="24.88" fill="#fef7f7"/>
<rect x="1299.80" y="874.07" width="68.50" height="24.88" fill="#fac1c3"/>
<rect x="1095.50" y="898.25" width="69.20" height="24.88" fill="#ed1f26"/>
<rect x="1164.00" y="898.25" width="67.80" height="24.88" fill="#fac1c3"/>
<rect x="1231.10" y="898.25" width="69.40" height="24.88" fill="#fdeaeb"/>
<rect x="1299.80" y="898.25" width="68.50" height="24.88" fill="#ed232a"/>
<rect x="1095.50" y="922.44" width="69.20" height="24.88" fill="#ed1f26"/>
<rect x="1164.00" y="922.44" width="67.80" height="24.88" fill="#f9b4b7"/>
<rect x="1231.10" y="922.44" width="69.40" height="24.88" fill="#fcdadb"/>
<rect x="1299.80" y="922.44" width="68.50" height="24.88" fill="#ed232a"/>
<rect x="1095.50" y="946.62" width="69.20" height="24.88" fill="#ed1f26"/>
<rect x="1164.00" y="946.62" width="67.80" height="24.88" fill="#fac5c7"/>
<rect x="1231.10" y="946.62" width="69.40" height="24.88" fill="#fcdadb"/>
<rect x="1299.80" y="946.62" width="68.50" height="24.88" fill="#ed1f26"/>
<rect x="1095.50" y="970.81" width="69.20" height="24.88" fill="#ed1f26"/>
<rect x="1164.00" y="970.81" width="67.80" height="24.88" fill="#fef7f7"/>
<rect x="1231.10" y="970.81" width="69.40" height="24.88" fill="#fcdedf"/>
<rect x="1299.80" y="970.81" width="68.50" height="24.88" fill="#f14d52"/>
<rect x="1095.50" y="994.99" width="69.20" height="24.88" fill="#ed1f26"/>
<rect x="1164.00" y="994.99" width="67.80" height="24.88" fill="#e3e3f0"/>
<rect x="1231.10" y="994.99" width="69.40" height="24.88" fill="#fbfbfd"/>
<rect x="1299.80" y="994.99" width="68.50" height="24.88" fill="#f9b9bb"/>
<rect x="1095.50" y="1019.18" width="69.20" height="24.88" fill="#ed1f26"/>
<rect x="1164.00" y="1019.18" width="67.80" height="24.88" fill="#ebebf4"/>
<rect x="1231.10" y="1019.18" width="69.40" height="24.88" fill="#ffffff"/>
<rect x="1299.80" y="1019.18" width="68.50" height="24.88" fill="#fbcdcf"/>
<rect x="1095.50" y="1043.36" width="69.20" height="24.88" fill="#ed1f26"/>
<rect x="1164.00" y="1043.36" width="67.80" height="24.88" fill="#dfdfee"/>
<rect x="1231.10" y="1043.36" width="69.40" height="24.88" fill="#f3f3f9"/>
<rect x="1299.80" y="1043.36" width="68.50" height="24.88" fill="#f7a0a3"/>
<rect x="1095.50" y="1067.55" width="69.20" height="24.88" fill="#ed1f26"/>
<rect x="1164.00" y="1067.55" width="67.80" height="24.88" fill="#efeff6"/>
<rect x="1231.10" y="1067.55" width="69.40" height="24.88" fill="#dbdbec"/>
<rect x="1299.80" y="1067.55" width="68.50" height="24.88" fill="#f9b4b7"/>
<rect x="1095.50" y="1091.73" width="69.20" height="24.88" fill="#ed1f26"/>
<rect x="1164.00" y="1091.73" width="67.80" height="24.88" fill="#d6d6ea"/>
<rect x="1231.10" y="1091.73" width="69.40" height="24.88" fill="#f7f7fb"/>
<rect x="1299.80" y="1091.73" width="68.50" height="24.88" fill="#f79c9f"/>
<rect x="1095.50" y="1115.92" width="69.20" height="24.18" fill="#ed1f26"/>
<rect x="1164.00" y="1115.92" width="67.80" height="24.18" fill="#b8b8da"/>
<rect x="1231.10" y="1115.92" width="69.40" height="24.18" fill="#fef7f7"/>
<rect x="1299.80" y="1115.92" width="68.50" height="24.18" fill="#f68b8f"/>
<rect x="1095.50" y="511.30" width="272.80" height="628.80" fill="none" stroke="#1c1f20" stroke-width="1.6" stroke-linejoin="round"/>
<text transform="translate(1129.75,529.29) scale(1,1.03)" font-size="15" text-anchor="middle" fill="#111111">4.7</text>
<text transform="translate(1197.55,529.29) scale(1,1.03)" font-size="15" text-anchor="middle" fill="#111111">4.4</text>
<text transform="translate(1265.45,529.29) scale(1,1.03)" font-size="15" text-anchor="middle" fill="#111111">1.0</text>
<text transform="translate(1334.05,529.29) scale(1,1.03)" font-size="15" text-anchor="middle" fill="#111111">3.2</text>
<text transform="translate(1129.75,553.48) scale(1,1.03)" font-size="15" text-anchor="middle" fill="#111111">6.4</text>
<text transform="translate(1197.55,553.48) scale(1,1.03)" font-size="15" text-anchor="middle" fill="#111111">8.7</text>
<text transform="translate(1265.45,553.48) scale(1,1.03)" font-size="15" text-anchor="middle" fill="#111111">4.5</text>
<text transform="translate(1334.05,553.48) scale(1,1.03)" font-size="15" text-anchor="middle" fill="#111111">6.0</text>
<text transform="translate(1129.75,577.66) scale(1,1.03)" font-size="15" text-anchor="middle" fill="#111111">5.3</text>
<text transform="translate(1197.55,577.66) scale(1,1.03)" font-size="15" text-anchor="middle" fill="#111111">8.1</text>
<text transform="translate(1265.45,577.66) scale(1,1.03)" font-size="15" text-anchor="middle" fill="#111111">4.0</text>
<text transform="translate(1334.05,577.66) scale(1,1.03)" font-size="15" text-anchor="middle" fill="#111111">4.7</text>
<text transform="translate(1129.75,601.85) scale(1,1.03)" font-size="15" text-anchor="middle" fill="#111111">1.9</text>
<text transform="translate(1197.55,601.85) scale(1,1.03)" font-size="15" text-anchor="middle" fill="#111111">6.7</text>
<text transform="translate(1265.45,601.85) scale(1,1.03)" font-size="15" text-anchor="middle" fill="#111111">1.3</text>
<text transform="translate(1334.05,601.85) scale(1,1.03)" font-size="15" text-anchor="middle" fill="#111111">2.4</text>
<text transform="translate(1129.75,626.03) scale(1,1.03)" font-size="15" text-anchor="middle" fill="#111111">3.2</text>
<text transform="translate(1197.55,626.03) scale(1,1.03)" font-size="15" text-anchor="middle" fill="#111111">0.2</text>
<text transform="translate(1265.45,626.03) scale(1,1.03)" font-size="15" text-anchor="middle" fill="#111111">0.1</text>
<text transform="translate(1334.05,626.03) scale(1,1.03)" font-size="15" text-anchor="middle" fill="#111111">2.4</text>
<text transform="translate(1129.75,650.22) scale(1,1.03)" font-size="15" text-anchor="middle" fill="#111111">2.9</text>
<text transform="translate(1197.55,650.22) scale(1,1.03)" font-size="15" text-anchor="middle" fill="#111111">-0.4</text>
<text transform="translate(1265.45,650.22) scale(1,1.03)" font-size="15" text-anchor="middle" fill="#111111">0</text>
<text transform="translate(1334.05,650.22) scale(1,1.03)" font-size="15" text-anchor="middle" fill="#111111">1.2</text>
<text transform="translate(1129.75,674.40) scale(1,1.03)" font-size="15" text-anchor="middle" fill="#111111">3.7</text>
<text transform="translate(1197.55,674.40) scale(1,1.03)" font-size="15" text-anchor="middle" fill="#111111">2.5</text>
<text transform="translate(1265.45,674.40) scale(1,1.03)" font-size="15" text-anchor="middle" fill="#111111">0.7</text>
<text transform="translate(1334.05,674.40) scale(1,1.03)" font-size="15" text-anchor="middle" fill="#111111">2.1</text>
<text transform="translate(1129.75,698.58) scale(1,1.03)" font-size="15" text-anchor="middle" fill="#111111">4.7</text>
<text transform="translate(1197.55,698.58) scale(1,1.03)" font-size="15" text-anchor="middle" fill="#111111">3.6</text>
<text transform="translate(1265.45,698.58) scale(1,1.03)" font-size="15" text-anchor="middle" fill="#111111">1.3</text>
<text transform="translate(1334.05,698.58) scale(1,1.03)" font-size="15" text-anchor="middle" fill="#111111">2.8</text>
<text transform="translate(1129.75,722.77) scale(1,1.03)" font-size="15" text-anchor="middle" fill="#111111">5.5</text>
<text transform="translate(1197.55,722.77) scale(1,1.03)" font-size="15" text-anchor="middle" fill="#111111">3.9</text>
<text transform="translate(1265.45,722.77) scale(1,1.03)" font-size="15" text-anchor="middle" fill="#111111">1.7</text>
<text transform="translate(1334.05,722.77) scale(1,1.03)" font-size="15" text-anchor="middle" fill="#111111">3.7</text>
<text transform="translate(1129.75,746.95) scale(1,1.03)" font-size="15" text-anchor="middle" fill="#111111">4.2</text>
<text transform="translate(1197.55,746.95) scale(1,1.03)" font-size="15" text-anchor="middle" fill="#111111">1.6</text>
<text transform="translate(1265.45,746.95) scale(1,1.03)" font-size="15" text-anchor="middle" fill="#111111">0.5</text>
<text transform="translate(1334.05,746.95) scale(1,1.03)" font-size="15" text-anchor="middle" fill="#111111">1.1</text>
<text transform="translate(1129.75,771.14) scale(1,1.03)" font-size="15" text-anchor="middle" fill="#111111">4.9</text>
<text transform="translate(1197.55,771.14) scale(1,1.03)" font-size="15" text-anchor="middle" fill="#111111">2.5</text>
<text transform="translate(1265.45,771.14) scale(1,1.03)" font-size="15" text-anchor="middle" fill="#111111">0.8</text>
<text transform="translate(1334.05,771.14) scale(1,1.03)" font-size="15" text-anchor="middle" fill="#111111">0.9</text>
<text transform="translate(1129.75,795.32) scale(1,1.03)" font-size="15" text-anchor="middle" fill="#111111">4.3</text>
<text transform="translate(1197.55,795.32) scale(1,1.03)" font-size="15" text-anchor="middle" fill="#111111">3.0</text>
<text transform="translate(1265.45,795.32) scale(1,1.03)" font-size="15" text-anchor="middle" fill="#111111">1.2</text>
<text transform="translate(1334.05,795.32) scale(1,1.03)" font-size="15" text-anchor="middle" fill="#111111">0.7</text>
<text transform="translate(1129.75,819.51) scale(1,1.03)" font-size="15" text-anchor="middle" fill="#111111">5.2</text>
<text transform="translate(1197.55,819.51) scale(1,1.03)" font-size="15" text-anchor="middle" fill="#111111">2.1</text>
<text transform="translate(1265.45,819.51) scale(1,1.03)" font-size="15" text-anchor="middle" fill="#111111">0.8</text>
<text transform="translate(1334.05,819.51) scale(1,1.03)" font-size="15" text-anchor="middle" fill="#111111">1.9</text>
<text transform="translate(1129.75,843.69) scale(1,1.03)" font-size="15" text-anchor="middle" fill="#111111">3.4</text>
<text transform="translate(1197.55,843.69) scale(1,1.03)" font-size="15" text-anchor="middle" fill="#111111">0.7</text>
<text transform="translate(1265.45,843.69) scale(1,1.03)" font-size="15" text-anchor="middle" fill="#111111">0.3</text>
<text transform="translate(1334.05,843.69) scale(1,1.03)" font-size="15" text-anchor="middle" fill="#111111">0.5</text>
<text transform="translate(1129.75,867.88) scale(1,1.03)" font-size="15" text-anchor="middle" fill="#111111">3.0</text>
<text transform="translate(1197.55,867.88) scale(1,1.03)" font-size="15" text-anchor="middle" fill="#111111">0.9</text>
<text transform="translate(1265.45,867.88) scale(1,1.03)" font-size="15" text-anchor="middle" fill="#111111">0.5</text>
<text transform="translate(1334.05,867.88) scale(1,1.03)" font-size="15" text-anchor="middle" fill="#111111">1.2</text>
<text transform="translate(1129.75,892.06) scale(1,1.03)" font-size="15" text-anchor="middle" fill="#111111">2.5</text>
<text transform="translate(1197.55,892.06) scale(1,1.03)" font-size="15" text-anchor="middle" fill="#111111">1.8</text>
<text transform="translate(1265.45,892.06) scale(1,1.03)" font-size="15" text-anchor="middle" fill="#111111">0.2</text>
<text transform="translate(1334.05,892.06) scale(1,1.03)" font-size="15" text-anchor="middle" fill="#111111">1.5</text>
<text transform="translate(1129.75,916.25) scale(1,1.03)" font-size="15" text-anchor="middle" fill="#111111">7.3</text>
<text transform="translate(1197.55,916.25) scale(1,1.03)" font-size="15" text-anchor="middle" fill="#111111">1.5</text>
<text transform="translate(1265.45,916.25) scale(1,1.03)" font-size="15" text-anchor="middle" fill="#111111">0.5</text>
<text transform="translate(1334.05,916.25) scale(1,1.03)" font-size="15" text-anchor="middle" fill="#111111">5.3</text>
<text transform="translate(1129.75,940.43) scale(1,1.03)" font-size="15" text-anchor="middle" fill="#111111">7.7</text>
<text transform="translate(1197.55,940.43) scale(1,1.03)" font-size="15" text-anchor="middle" fill="#111111">1.8</text>
<text transform="translate(1265.45,940.43) scale(1,1.03)" font-size="15" text-anchor="middle" fill="#111111">0.9</text>
<text transform="translate(1334.05,940.43) scale(1,1.03)" font-size="15" text-anchor="middle" fill="#111111">5.3</text>
<text transform="translate(1129.75,964.62) scale(1,1.03)" font-size="15" text-anchor="middle" fill="#111111">8.3</text>
<text transform="translate(1197.55,964.62) scale(1,1.03)" font-size="15" text-anchor="middle" fill="#111111">1.4</text>
<text transform="translate(1265.45,964.62) scale(1,1.03)" font-size="15" text-anchor="middle" fill="#111111">0.9</text>
<text transform="translate(1334.05,964.62) scale(1,1.03)" font-size="15" text-anchor="middle" fill="#111111">5.4</text>
<text transform="translate(1129.75,988.80) scale(1,1.03)" font-size="15" text-anchor="middle" fill="#111111">6.7</text>
<text transform="translate(1197.55,988.80) scale(1,1.03)" font-size="15" text-anchor="middle" fill="#111111">0.2</text>
<text transform="translate(1265.45,988.80) scale(1,1.03)" font-size="15" text-anchor="middle" fill="#111111">0.8</text>
<text transform="translate(1334.05,988.80) scale(1,1.03)" font-size="15" text-anchor="middle" fill="#111111">4.3</text>
<text transform="translate(1129.75,1012.98) scale(1,1.03)" font-size="15" text-anchor="middle" fill="#111111">6.1</text>
<text transform="translate(1197.55,1012.98) scale(1,1.03)" font-size="15" text-anchor="middle" fill="#111111">-0.7</text>
<text transform="translate(1265.45,1012.98) scale(1,1.03)" font-size="15" text-anchor="middle" fill="#111111">-0.1</text>
<text transform="translate(1334.05,1012.98) scale(1,1.03)" font-size="15" text-anchor="middle" fill="#111111">1.7</text>
<text transform="translate(1129.75,1037.17) scale(1,1.03)" font-size="15" text-anchor="middle" fill="#111111">6.7</text>
<text transform="translate(1197.55,1037.17) scale(1,1.03)" font-size="15" text-anchor="middle" fill="#111111">-0.5</text>
<text transform="translate(1265.45,1037.17) scale(1,1.03)" font-size="15" text-anchor="middle" fill="#111111">0</text>
<text transform="translate(1334.05,1037.17) scale(1,1.03)" font-size="15" text-anchor="middle" fill="#111111">1.2</text>
<text transform="translate(1129.75,1061.35) scale(1,1.03)" font-size="15" text-anchor="middle" fill="#111111">7.9</text>
<text transform="translate(1197.55,1061.35) scale(1,1.03)" font-size="15" text-anchor="middle" fill="#111111">-0.8</text>
<text transform="translate(1265.45,1061.35) scale(1,1.03)" font-size="15" text-anchor="middle" fill="#111111">-0.3</text>
<text transform="translate(1334.05,1061.35) scale(1,1.03)" font-size="15" text-anchor="middle" fill="#111111">2.3</text>
<text transform="translate(1129.75,1085.54) scale(1,1.03)" font-size="15" text-anchor="middle" fill="#111111">8.1</text>
<text transform="translate(1197.55,1085.54) scale(1,1.03)" font-size="15" text-anchor="middle" fill="#111111">-0.4</text>
<text transform="translate(1265.45,1085.54) scale(1,1.03)" font-size="15" text-anchor="middle" fill="#111111">-0.9</text>
<text transform="translate(1334.05,1085.54) scale(1,1.03)" font-size="15" text-anchor="middle" fill="#111111">1.8</text>
<text transform="translate(1129.75,1109.72) scale(1,1.03)" font-size="15" text-anchor="middle" fill="#111111">7.8</text>
<text transform="translate(1197.55,1109.72) scale(1,1.03)" font-size="15" text-anchor="middle" fill="#111111">-1.0</text>
<text transform="translate(1265.45,1109.72) scale(1,1.03)" font-size="15" text-anchor="middle" fill="#111111">-0.2</text>
<text transform="translate(1334.05,1109.72) scale(1,1.03)" font-size="15" text-anchor="middle" fill="#111111">2.4</text>
<text transform="translate(1129.75,1133.91) scale(1,1.03)" font-size="15" text-anchor="middle" fill="#111111">8.3</text>
<text transform="translate(1197.55,1133.91) scale(1,1.03)" font-size="15" text-anchor="middle" fill="#111111">-1.7</text>
<text transform="translate(1265.45,1133.91) scale(1,1.03)" font-size="15" text-anchor="middle" fill="#111111">0.2</text>
<text transform="translate(1334.05,1133.91) scale(1,1.03)" font-size="15" text-anchor="middle" fill="#111111">2.8</text>
<text transform="translate(1084.50,529.69) scale(1,1.05)" font-size="18.5" font-style="italic" text-anchor="end" fill="#111">prpR</text>
<text transform="translate(1084.50,553.88) scale(1,1.05)" font-size="18.5" font-style="italic" text-anchor="end" fill="#111">prpD</text>
<text transform="translate(1084.50,578.06) scale(1,1.05)" font-size="18.5" font-style="italic" text-anchor="end" fill="#111">prpC</text>
<text transform="translate(1084.50,602.25) scale(1,1.05)" font-size="18.5" font-style="italic" text-anchor="end" fill="#111">icl1</text>
<text transform="translate(1084.50,626.43) scale(1,1.05)" font-size="18.5" font-style="italic" text-anchor="end" fill="#111">mutA</text>
<text transform="translate(1084.50,650.62) scale(1,1.05)" font-size="18.5" font-style="italic" text-anchor="end" fill="#111">mutB</text>
<text transform="translate(1084.50,674.80) scale(1,1.05)" font-size="18.5" font-style="italic" text-anchor="end" fill="#111">bkdC</text>
<text transform="translate(1084.50,698.98) scale(1,1.05)" font-size="18.5" font-style="italic" text-anchor="end" fill="#111">bkdB</text>
<text transform="translate(1084.50,723.17) scale(1,1.05)" font-size="18.5" font-style="italic" text-anchor="end" fill="#111">bkdA</text>
<text transform="translate(1084.50,747.35) scale(1,1.05)" font-size="18.5" font-style="italic" text-anchor="end" fill="#111">citE</text>
<text transform="translate(1084.50,771.54) scale(1,1.05)" font-size="18.5" font-style="italic" text-anchor="end" fill="#111">Rv2499c</text>
<text transform="translate(1084.50,795.72) scale(1,1.05)" font-size="18.5" font-style="italic" text-anchor="end" fill="#111">fadE19</text>
<text transform="translate(1084.50,819.91) scale(1,1.05)" font-size="18.5" font-style="italic" text-anchor="end" fill="#111">accA1</text>
<text transform="translate(1084.50,844.09) scale(1,1.05)" font-size="18.5" font-style="italic" text-anchor="end" fill="#111">accD1</text>
<text transform="translate(1084.50,868.28) scale(1,1.05)" font-size="18.5" font-style="italic" text-anchor="end" fill="#111">scoB</text>
<text transform="translate(1084.50,892.46) scale(1,1.05)" font-size="18.5" font-style="italic" text-anchor="end" fill="#111">scoA</text>
<text transform="translate(1084.50,916.65) scale(1,1.05)" font-size="18.5" font-style="italic" text-anchor="end" fill="#111">csoR</text>
<text transform="translate(1084.50,940.83) scale(1,1.05)" font-size="18.5" font-style="italic" text-anchor="end" fill="#111">Rv0968</text>
<text transform="translate(1084.50,965.02) scale(1,1.05)" font-size="18.5" font-style="italic" text-anchor="end" fill="#111">ctpV</text>
<text transform="translate(1084.50,989.20) scale(1,1.05)" font-size="18.5" font-style="italic" text-anchor="end" fill="#111">Rv0970</text>
<text transform="translate(1084.50,1013.38) scale(1,1.05)" font-size="18.5" font-style="italic" text-anchor="end" fill="#111">echA7</text>
<text transform="translate(1084.50,1037.57) scale(1,1.05)" font-size="18.5" font-style="italic" text-anchor="end" fill="#111">fadE12</text>
<text transform="translate(1084.50,1061.75) scale(1,1.05)" font-size="18.5" font-style="italic" text-anchor="end" fill="#111">accA2</text>
<text transform="translate(1084.50,1085.94) scale(1,1.05)" font-size="18.5" font-style="italic" text-anchor="end" fill="#111">accD2</text>
<text transform="translate(1084.50,1110.12) scale(1,1.05)" font-size="18.5" font-style="italic" text-anchor="end" fill="#111">fadE13</text>
<text transform="translate(1084.50,1134.31) scale(1,1.05)" font-size="18.5" font-style="italic" text-anchor="end" fill="#111">Rv0976c</text>
<text transform="translate(1129.75,1167.60) scale(1,1.03)" font-size="18.5" text-anchor="middle" fill="#111">1%O<tspan font-size="13">2</tspan></text>
<text transform="translate(1197.55,1167.60) scale(1,1.03)" font-size="18.5" text-anchor="middle" fill="#111">PBS</text>
<text transform="translate(1265.45,1167.60) scale(1,1.03)" font-size="18.5" text-anchor="middle" fill="#111">pH</text>
<text transform="translate(1334.05,1167.60) scale(1,1.03)" font-size="18.5" text-anchor="middle" fill="#111">StPh</text>
<rect x="1402.80" y="511.60" width="34.10" height="628.40" fill="url(#gradD)" stroke="#1c1f20" stroke-width="1.6" stroke-linejoin="round"/>
<text transform="translate(1449.20,519.50) scale(1,1.06)" font-size="22.5" fill="#111">6</text>
<line x1="1402.80" y1="616.33" x2="1408.80" y2="616.33" stroke="#1c1f20" stroke-width="1.6"/>
<line x1="1430.90" y1="616.33" x2="1436.90" y2="616.33" stroke="#1c1f20" stroke-width="1.6"/>
<text transform="translate(1449.20,624.23) scale(1,1.06)" font-size="22.5" fill="#111">4</text>
<line x1="1402.80" y1="721.07" x2="1408.80" y2="721.07" stroke="#1c1f20" stroke-width="1.6"/>
<line x1="1430.90" y1="721.07" x2="1436.90" y2="721.07" stroke="#1c1f20" stroke-width="1.6"/>
<text transform="translate(1449.20,728.97) scale(1,1.06)" font-size="22.5" fill="#111">2</text>
<line x1="1402.80" y1="825.80" x2="1408.80" y2="825.80" stroke="#1c1f20" stroke-width="1.6"/>
<line x1="1430.90" y1="825.80" x2="1436.90" y2="825.80" stroke="#1c1f20" stroke-width="1.6"/>
<text transform="translate(1449.20,833.70) scale(1,1.06)" font-size="22.5" fill="#111">0</text>
<line x1="1402.80" y1="930.53" x2="1408.80" y2="930.53" stroke="#1c1f20" stroke-width="1.6"/>
<line x1="1430.90" y1="930.53" x2="1436.90" y2="930.53" stroke="#1c1f20" stroke-width="1.6"/>
<text transform="translate(1449.20,938.43) scale(1,1.06)" font-size="22.5" fill="#111">-2</text>
<line x1="1402.80" y1="1035.27" x2="1408.80" y2="1035.27" stroke="#1c1f20" stroke-width="1.6"/>
<line x1="1430.90" y1="1035.27" x2="1436.90" y2="1035.27" stroke="#1c1f20" stroke-width="1.6"/>
<text transform="translate(1449.20,1043.17) scale(1,1.06)" font-size="22.5" fill="#111">-4</text>
<text transform="translate(1449.20,1147.90) scale(1,1.06)" font-size="22.5" fill="#111">-6</text>
<text transform="translate(-0.2,23.9) scale(1,1.035)" font-size="29" font-weight="bold" fill="#000">A</text>
<text transform="translate(484.6,24.0) scale(1,1.035)" font-size="29" font-weight="bold" fill="#000">B</text>
<text transform="translate(1001.2,24.0) scale(1,1.035)" font-size="29" font-weight="bold" fill="#000">C</text>
<text transform="translate(1001.4,480.9) scale(1,1.035)" font-size="29" font-weight="bold" fill="#000">D</text>
<path d="M533.80,51.70 H517.60 V432.20 H533.80" fill="none" stroke="#333333" stroke-width="1.6" stroke-linejoin="round" stroke-linecap="round"/>
<path d="M530.90,439.80 H517.60 V994.60 H530.90" fill="none" stroke="#333333" stroke-width="1.6" stroke-linejoin="round" stroke-linecap="round"/>
<path d="M1019.70,509.70 H1006.70 V602.30 H1019.70" fill="none" stroke="#333333" stroke-width="1.6" stroke-linejoin="round" stroke-linecap="round"/>
<path d="M1019.70,607.90 H1006.70 V654.20 H1019.70" fill="none" stroke="#333333" stroke-width="1.6" stroke-linejoin="round" stroke-linecap="round"/>
<path d="M1019.70,659.80 H1006.70 V895.60 H1019.70" fill="none" stroke="#333333" stroke-width="1.6" stroke-linejoin="round" stroke-linecap="round"/>
<path d="M1019.70,902.40 H1006.70 V1138.30 H1019.70" fill="none" stroke="#333333" stroke-width="1.6" stroke-linejoin="round" stroke-linecap="round"/>
<text transform="translate(506.2,262.4) rotate(-90) scale(1,1.08)" font-size="33" font-weight="bold" text-anchor="middle" fill="#000">Glycolysis</text>
<text transform="translate(505.4,670.8) rotate(-90) scale(1,1.08)" font-size="33" font-weight="bold" text-anchor="middle" fill="#000">TCA</text>
<text transform="translate(1001.8,593.5) rotate(-90) scale(1,1.08)" font-size="33" font-weight="bold" text-anchor="middle" fill="#000">MMP MCC</text>
<line x1="896" y1="991.7" x2="928" y2="991.7" stroke="#9a2a35" stroke-width="0.9"/>
</svg>
</body></html>
